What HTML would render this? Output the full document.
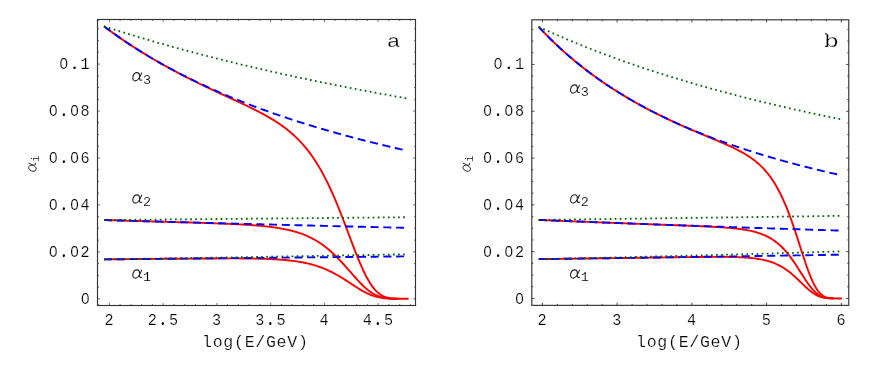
<!DOCTYPE html>
<html><head><meta charset="utf-8"><title>Running couplings</title>
<style>
html,body{margin:0;padding:0;background:#fff;}
body{width:871px;height:373px;overflow:hidden;font-family:"Liberation Mono",monospace;}
svg{display:block;will-change:transform;transform:translateZ(0);}
</style></head><body>
<svg width="871" height="373" viewBox="0 0 871 373">
<rect width="871" height="373" fill="#fff"/>
<g id="panel-a">
<path d="M104.03,26.32 L105.29,27.28 L106.56,28.22 L107.83,29.17 L109.1,30.1 L110.37,31.03 L111.64,31.95 L112.91,32.87 L114.18,33.78 L115.45,34.68 L116.71,35.58 L117.98,36.47 L119.25,37.36 L120.52,38.24 L121.79,39.11 L123.06,39.98 L124.33,40.84 L125.6,41.7 L126.87,42.55 L128.14,43.39 L129.4,44.23 L130.67,45.07 L131.94,45.9 L133.21,46.72 L134.48,47.54 L135.75,48.35 L137.02,49.16 L138.29,49.96 L139.56,50.76 L140.82,51.55 L142.09,52.34 L143.36,53.13 L144.63,53.9 L145.9,54.68 L147.17,55.45 L148.44,56.21 L149.71,56.97 L150.98,57.72 L152.25,58.47 L153.51,59.22 L154.78,59.96 L156.05,60.7 L157.32,61.43 L158.59,62.16 L159.86,62.88 L161.13,63.6 L162.4,64.32 L163.67,65.03 L164.93,65.74 L166.2,66.44 L167.47,67.14 L168.74,67.84 L170.01,68.53 L171.28,69.22 L172.55,69.9 L173.82,70.58 L175.09,71.26 L176.36,71.93 L177.62,72.6 L178.89,73.27 L180.16,73.93 L181.43,74.59 L182.7,75.25 L183.97,75.9 L185.24,76.55 L186.51,77.19 L187.78,77.84 L189.04,78.48 L190.31,79.12 L191.58,79.75 L192.85,80.38 L194.12,81.01 L195.39,81.64 L196.66,82.26 L197.93,82.88 L199.2,83.5 L200.47,84.11 L201.73,84.73 L203,85.34 L204.27,85.95 L205.54,86.55 L206.81,87.16 L208.08,87.76 L209.35,88.36 L210.62,88.96 L211.89,89.56 L213.15,90.15 L214.42,90.74 L215.69,91.34 L216.96,91.93 L218.23,92.52 L219.5,93.11 L220.77,93.7 L222.04,94.28 L223.31,94.87 L224.58,95.46 L225.84,96.04 L227.11,96.63 L228.38,97.21 L229.65,97.8 L230.92,98.38 L232.19,98.97 L233.46,99.56 L234.73,100.14 L236,100.73 L237.26,101.32 L238.53,101.91 L239.8,102.51 L241.07,103.1 L242.34,103.7 L243.61,104.3 L244.88,104.9 L246.15,105.51 L247.42,106.11 L248.69,106.73 L249.95,107.34 L251.22,107.96 L252.49,108.59 L253.76,109.22 L255.03,109.86 L256.3,110.5 L257.57,111.15 L258.84,111.8 L260.11,112.47 L261.37,113.14 L262.64,113.82 L263.91,114.51 L265.18,115.2 L266.45,115.91 L267.72,116.63 L268.99,117.36 L270.26,118.1 L271.53,118.86 L272.8,119.63 L274.06,120.41 L275.33,121.21 L276.6,122.03 L277.87,122.86 L279.14,123.71 L280.41,124.58 L281.68,125.47 L282.95,126.38 L284.22,127.31 L285.48,128.27 L286.75,129.25 L288.02,130.25 L289.29,131.29 L290.56,132.35 L291.83,133.44 L293.1,134.56 L294.37,135.72 L295.64,136.9 L296.91,138.13 L298.17,139.39 L299.44,140.69 L300.71,142.03 L301.98,143.41 L303.25,144.84 L304.52,146.31 L305.79,147.83 L307.06,149.4 L308.33,151.01 L309.59,152.68 L310.86,154.41 L312.13,156.19 L313.4,158.02 L314.67,159.92 L315.94,161.88 L317.21,163.89 L318.48,165.98 L319.75,168.12 L321.02,170.34 L322.28,172.62 L323.55,174.96 L324.82,177.38 L326.09,179.86 L327.36,182.42 L328.63,185.04 L329.9,187.73 L331.17,190.49 L332.44,193.31 L333.7,196.2 L334.97,199.15 L336.24,202.17 L337.51,205.24 L338.78,208.36 L340.05,211.54 L341.32,214.76 L342.59,218.03 L343.86,221.32 L345.13,224.65 L346.39,228 L347.66,231.37 L348.93,234.74 L350.2,238.11 L351.47,241.47 L352.74,244.81 L354.01,248.11 L355.28,251.38 L356.55,254.6 L357.81,257.75 L359.08,260.83 L360.35,263.83 L361.62,266.74 L362.89,269.54 L364.16,272.24 L365.43,274.81 L366.7,277.25 L367.97,279.56 L369.24,281.72 L370.5,283.74 L371.77,285.62 L373.04,287.34 L374.31,288.92 L375.58,290.35 L376.85,291.63 L378.12,292.77 L379.39,293.78 L380.66,294.67 L381.92,295.43 L383.19,296.08 L384.46,296.64 L385.73,297.1 L387,297.48 L388.27,297.79 L389.54,298.04 L390.81,298.23 L392.08,298.39 L393.35,298.5 L394.61,298.59 L395.88,298.66 L397.15,298.7 L398.42,298.74 L399.69,298.76 L400.96,298.77 L402.23,298.78 L403.5,298.79 L404.77,298.79 L406.03,298.8 L407.3,298.8 L408.57,298.8" fill="none" stroke="#ff0000" stroke-width="1.9" stroke-linejoin="round"/>
<path d="M104.03,220.06 L105.29,220.1 L106.56,220.13 L107.83,220.17 L109.1,220.21 L110.37,220.24 L111.64,220.28 L112.91,220.31 L114.18,220.35 L115.45,220.39 L116.71,220.42 L117.98,220.46 L119.25,220.49 L120.52,220.53 L121.79,220.57 L123.06,220.6 L124.33,220.64 L125.6,220.67 L126.87,220.71 L128.14,220.75 L129.4,220.78 L130.67,220.82 L131.94,220.85 L133.21,220.89 L134.48,220.92 L135.75,220.96 L137.02,221 L138.29,221.03 L139.56,221.07 L140.82,221.1 L142.09,221.14 L143.36,221.18 L144.63,221.21 L145.9,221.25 L147.17,221.28 L148.44,221.32 L149.71,221.35 L150.98,221.39 L152.25,221.43 L153.51,221.46 L154.78,221.5 L156.05,221.53 L157.32,221.57 L158.59,221.6 L159.86,221.64 L161.13,221.68 L162.4,221.71 L163.67,221.75 L164.93,221.78 L166.2,221.82 L167.47,221.86 L168.74,221.89 L170.01,221.93 L171.28,221.97 L172.55,222 L173.82,222.04 L175.09,222.08 L176.36,222.11 L177.62,222.15 L178.89,222.19 L180.16,222.22 L181.43,222.26 L182.7,222.3 L183.97,222.33 L185.24,222.37 L186.51,222.41 L187.78,222.45 L189.04,222.49 L190.31,222.52 L191.58,222.56 L192.85,222.6 L194.12,222.64 L195.39,222.68 L196.66,222.72 L197.93,222.76 L199.2,222.8 L200.47,222.84 L201.73,222.88 L203,222.92 L204.27,222.96 L205.54,223 L206.81,223.04 L208.08,223.09 L209.35,223.13 L210.62,223.17 L211.89,223.22 L213.15,223.26 L214.42,223.31 L215.69,223.35 L216.96,223.4 L218.23,223.45 L219.5,223.49 L220.77,223.54 L222.04,223.59 L223.31,223.64 L224.58,223.69 L225.84,223.74 L227.11,223.8 L228.38,223.85 L229.65,223.91 L230.92,223.96 L232.19,224.02 L233.46,224.08 L234.73,224.14 L236,224.2 L237.26,224.27 L238.53,224.33 L239.8,224.4 L241.07,224.47 L242.34,224.54 L243.61,224.61 L244.88,224.68 L246.15,224.76 L247.42,224.84 L248.69,224.92 L249.95,225.01 L251.22,225.09 L252.49,225.18 L253.76,225.28 L255.03,225.37 L256.3,225.47 L257.57,225.58 L258.84,225.69 L260.11,225.8 L261.37,225.91 L262.64,226.03 L263.91,226.16 L265.18,226.29 L266.45,226.43 L267.72,226.57 L268.99,226.71 L270.26,226.87 L271.53,227.03 L272.8,227.19 L274.06,227.37 L275.33,227.55 L276.6,227.73 L277.87,227.93 L279.14,228.14 L280.41,228.35 L281.68,228.58 L282.95,228.81 L284.22,229.06 L285.48,229.31 L286.75,229.58 L288.02,229.86 L289.29,230.15 L290.56,230.46 L291.83,230.78 L293.1,231.11 L294.37,231.46 L295.64,231.83 L296.91,232.21 L298.17,232.61 L299.44,233.03 L300.71,233.47 L301.98,233.92 L303.25,234.4 L304.52,234.9 L305.79,235.42 L307.06,235.96 L308.33,236.53 L309.59,237.12 L310.86,237.74 L312.13,238.38 L313.4,239.05 L314.67,239.75 L315.94,240.48 L317.21,241.24 L318.48,242.02 L319.75,242.84 L321.02,243.69 L322.28,244.57 L323.55,245.49 L324.82,246.44 L326.09,247.42 L327.36,248.43 L328.63,249.48 L329.9,250.56 L331.17,251.68 L332.44,252.83 L333.7,254.01 L334.97,255.22 L336.24,256.47 L337.51,257.74 L338.78,259.05 L340.05,260.38 L341.32,261.74 L342.59,263.11 L343.86,264.51 L345.13,265.93 L346.39,267.36 L347.66,268.81 L348.93,270.26 L350.2,271.71 L351.47,273.17 L352.74,274.62 L354.01,276.07 L355.28,277.5 L356.55,278.91 L357.81,280.3 L359.08,281.66 L360.35,282.99 L361.62,284.28 L362.89,285.53 L364.16,286.73 L365.43,287.88 L366.7,288.97 L367.97,290.01 L369.24,290.99 L370.5,291.9 L371.77,292.75 L373.04,293.53 L374.31,294.25 L375.58,294.9 L376.85,295.49 L378.12,296.01 L379.39,296.48 L380.66,296.88 L381.92,297.23 L383.19,297.54 L384.46,297.79 L385.73,298 L387,298.18 L388.27,298.33 L389.54,298.44 L390.81,298.53 L392.08,298.61 L393.35,298.66 L394.61,298.7 L395.88,298.73 L397.15,298.75" fill="none" stroke="#ff0000" stroke-width="1.9" stroke-linejoin="round"/>
<path d="M104.03,259.37 L105.29,259.36 L106.56,259.35 L107.83,259.34 L109.1,259.32 L110.37,259.31 L111.64,259.3 L112.91,259.29 L114.18,259.28 L115.45,259.27 L116.71,259.25 L117.98,259.24 L119.25,259.23 L120.52,259.22 L121.79,259.21 L123.06,259.2 L124.33,259.18 L125.6,259.17 L126.87,259.16 L128.14,259.15 L129.4,259.14 L130.67,259.13 L131.94,259.11 L133.21,259.1 L134.48,259.09 L135.75,259.08 L137.02,259.07 L138.29,259.06 L139.56,259.04 L140.82,259.03 L142.09,259.02 L143.36,259.01 L144.63,259 L145.9,258.99 L147.17,258.97 L148.44,258.96 L149.71,258.95 L150.98,258.94 L152.25,258.93 L153.51,258.92 L154.78,258.9 L156.05,258.89 L157.32,258.88 L158.59,258.87 L159.86,258.86 L161.13,258.85 L162.4,258.84 L163.67,258.82 L164.93,258.81 L166.2,258.8 L167.47,258.79 L168.74,258.78 L170.01,258.77 L171.28,258.76 L172.55,258.75 L173.82,258.73 L175.09,258.72 L176.36,258.71 L177.62,258.7 L178.89,258.69 L180.16,258.68 L181.43,258.67 L182.7,258.66 L183.97,258.65 L185.24,258.64 L186.51,258.63 L187.78,258.62 L189.04,258.61 L190.31,258.6 L191.58,258.59 L192.85,258.58 L194.12,258.57 L195.39,258.56 L196.66,258.55 L197.93,258.54 L199.2,258.53 L200.47,258.52 L201.73,258.51 L203,258.5 L204.27,258.5 L205.54,258.49 L206.81,258.48 L208.08,258.47 L209.35,258.47 L210.62,258.46 L211.89,258.45 L213.15,258.45 L214.42,258.44 L215.69,258.43 L216.96,258.43 L218.23,258.42 L219.5,258.42 L220.77,258.41 L222.04,258.41 L223.31,258.41 L224.58,258.4 L225.84,258.4 L227.11,258.4 L228.38,258.4 L229.65,258.4 L230.92,258.4 L232.19,258.4 L233.46,258.4 L234.73,258.4 L236,258.41 L237.26,258.41 L238.53,258.42 L239.8,258.42 L241.07,258.43 L242.34,258.44 L243.61,258.45 L244.88,258.46 L246.15,258.47 L247.42,258.48 L248.69,258.5 L249.95,258.51 L251.22,258.53 L252.49,258.55 L253.76,258.57 L255.03,258.6 L256.3,258.62 L257.57,258.65 L258.84,258.68 L260.11,258.71 L261.37,258.74 L262.64,258.78 L263.91,258.82 L265.18,258.86 L266.45,258.91 L267.72,258.95 L268.99,259 L270.26,259.06 L271.53,259.12 L272.8,259.18 L274.06,259.25 L275.33,259.32 L276.6,259.39 L277.87,259.47 L279.14,259.56 L280.41,259.65 L281.68,259.74 L282.95,259.85 L284.22,259.95 L285.48,260.07 L286.75,260.19 L288.02,260.32 L289.29,260.45 L290.56,260.59 L291.83,260.74 L293.1,260.9 L294.37,261.07 L295.64,261.25 L296.91,261.43 L298.17,261.63 L299.44,261.84 L300.71,262.06 L301.98,262.29 L303.25,262.53 L304.52,262.78 L305.79,263.05 L307.06,263.33 L308.33,263.62 L309.59,263.93 L310.86,264.25 L312.13,264.59 L313.4,264.95 L314.67,265.32 L315.94,265.71 L317.21,266.11 L318.48,266.54 L319.75,266.98 L321.02,267.44 L322.28,267.92 L323.55,268.42 L324.82,268.93 L326.09,269.47 L327.36,270.03 L328.63,270.61 L329.9,271.21 L331.17,271.82 L332.44,272.46 L333.7,273.12 L334.97,273.8 L336.24,274.5 L337.51,275.21 L338.78,275.94 L340.05,276.69 L341.32,277.46 L342.59,278.23 L343.86,279.03 L345.13,279.83 L346.39,280.64 L347.66,281.46 L348.93,282.29 L350.2,283.12 L351.47,283.95 L352.74,284.78 L354.01,285.61 L355.28,286.43 L356.55,287.24 L357.81,288.04 L359.08,288.83 L360.35,289.59 L361.62,290.34 L362.89,291.06 L364.16,291.76 L365.43,292.42 L366.7,293.06 L367.97,293.66 L369.24,294.23 L370.5,294.76 L371.77,295.25 L373.04,295.71 L374.31,296.13 L375.58,296.51 L376.85,296.85 L378.12,297.16 L379.39,297.43 L380.66,297.67 L381.92,297.88 L383.19,298.05 L384.46,298.2 L385.73,298.33 L387,298.43 L388.27,298.52 L389.54,298.59 L390.81,298.64 L392.08,298.68 L393.35,298.72 L394.61,298.74 L395.88,298.76 L397.15,298.77 L398.42,298.78" fill="none" stroke="#ff0000" stroke-width="1.9" stroke-linejoin="round"/>
<path d="M104.03,26.31 L105.28,27.26 L106.54,28.2 L107.8,29.14 L109.06,30.07 L110.32,30.99 L111.58,31.9 L112.84,32.81 L114.1,33.72 L115.36,34.61 L116.62,35.5 L117.88,36.39 L119.14,37.27 L120.4,38.14 L121.66,39.01 L122.92,39.87 L124.18,40.73 L125.44,41.58 L126.7,42.42 L127.96,43.26 L129.22,44.1 L130.48,44.92 L131.74,45.75 L133,46.56 L134.26,47.38 L135.52,48.18 L136.78,48.99 L138.04,49.78 L139.3,50.58 L140.56,51.36 L141.82,52.14 L143.08,52.92 L144.34,53.69 L145.6,54.46 L146.86,55.22 L148.12,55.98 L149.38,56.73 L150.64,57.48 L151.9,58.23 L153.16,58.96 L154.42,59.7 L155.68,60.43 L156.94,61.16 L158.2,61.88 L159.46,62.59 L160.72,63.31 L161.98,64.01 L163.24,64.72 L164.5,65.42 L165.76,66.11 L167.02,66.81 L168.28,67.49 L169.54,68.18 L170.8,68.86 L172.06,69.53 L173.32,70.2 L174.58,70.87 L175.84,71.53 L177.1,72.19 L178.36,72.85 L179.62,73.5 L180.88,74.15 L182.14,74.79 L183.4,75.44 L184.66,76.07 L185.92,76.71 L187.18,77.34 L188.44,77.96 L189.7,78.59 L190.96,79.21 L192.22,79.82 L193.48,80.43 L194.74,81.04 L196,81.65 L197.26,82.25 L198.52,82.85 L199.78,83.45 L201.04,84.04 L202.3,84.63 L203.56,85.21 L204.82,85.8 L206.08,86.38 L207.34,86.95 L208.6,87.53 L209.86,88.1 L211.12,88.66 L212.38,89.23 L213.64,89.79 L214.9,90.35 L216.16,90.9 L217.42,91.46 L218.68,92 L219.94,92.55 L221.2,93.09 L222.46,93.64 L223.72,94.17 L224.98,94.71 L226.24,95.24 L227.5,95.77 L228.76,96.3 L230.02,96.82 L231.28,97.34 L232.54,97.86 L233.8,98.38 L235.06,98.89 L236.32,99.4 L237.58,99.91 L238.84,100.41 L240.1,100.92 L241.36,101.42 L242.62,101.91 L243.88,102.41 L245.14,102.9 L246.4,103.39 L247.66,103.88 L248.92,104.37 L250.18,104.85 L251.44,105.33 L252.7,105.81 L253.96,106.28 L255.22,106.76 L256.48,107.23 L257.74,107.7 L259,108.17 L260.26,108.63 L261.52,109.09 L262.78,109.55 L264.04,110.01 L265.3,110.47 L266.56,110.92 L267.82,111.37 L269.08,111.82 L270.34,112.27 L271.6,112.71 L272.86,113.15 L274.12,113.59 L275.38,114.03 L276.64,114.47 L277.9,114.9 L279.16,115.33 L280.42,115.76 L281.68,116.19 L282.94,116.62 L284.2,117.04 L285.46,117.47 L286.72,117.89 L287.98,118.3 L289.24,118.72 L290.5,119.14 L291.76,119.55 L293.02,119.96 L294.28,120.37 L295.54,120.77 L296.8,121.18 L298.06,121.58 L299.32,121.98 L300.58,122.38 L301.84,122.78 L303.1,123.18 L304.36,123.57 L305.62,123.96 L306.88,124.35 L308.14,124.74 L309.4,125.13 L310.66,125.52 L311.92,125.9 L313.18,126.28 L314.44,126.66 L315.7,127.04 L316.96,127.42 L318.22,127.79 L319.48,128.17 L320.74,128.54 L322,128.91 L323.26,129.28 L324.52,129.65 L325.78,130.01 L327.04,130.38 L328.3,130.74 L329.56,131.1 L330.82,131.46 L332.08,131.82 L333.34,132.17 L334.6,132.53 L335.86,132.88 L337.12,133.23 L338.38,133.59 L339.64,133.93 L340.9,134.28 L342.16,134.63 L343.42,134.97 L344.68,135.32 L345.94,135.66 L347.2,136 L348.46,136.34 L349.72,136.67 L350.98,137.01 L352.24,137.34 L353.5,137.68 L354.76,138.01 L356.02,138.34 L357.28,138.67 L358.54,139 L359.8,139.32 L361.06,139.65 L362.32,139.97 L363.58,140.29 L364.84,140.62 L366.1,140.94 L367.36,141.25 L368.62,141.57 L369.88,141.89 L371.14,142.2 L372.4,142.52 L373.66,142.83 L374.92,143.14 L376.18,143.45 L377.44,143.76 L378.7,144.07 L379.96,144.37 L381.22,144.68 L382.48,144.98 L383.74,145.28 L385,145.58 L386.26,145.88 L387.52,146.18 L388.78,146.48 L390.04,146.78 L391.3,147.07 L392.56,147.37 L393.82,147.66 L395.08,147.95 L396.34,148.24 L397.6,148.53 L398.86,148.82 L400.12,149.11 L401.38,149.4 L402.64,149.68 L403.9,149.97 L405.16,150.25 L406.42,150.53" fill="none" stroke="#0000ff" stroke-width="1.9" stroke-dasharray="8 4.7"/>
<path d="M104.03,220.06 L105.28,220.09 L106.54,220.13 L107.8,220.17 L109.06,220.2 L110.32,220.24 L111.58,220.27 L112.84,220.31 L114.1,220.34 L115.36,220.38 L116.62,220.42 L117.88,220.45 L119.14,220.49 L120.4,220.52 L121.66,220.56 L122.92,220.59 L124.18,220.63 L125.44,220.66 L126.7,220.7 L127.96,220.74 L129.22,220.77 L130.48,220.81 L131.74,220.84 L133,220.88 L134.26,220.91 L135.52,220.95 L136.78,220.98 L138.04,221.02 L139.3,221.05 L140.56,221.09 L141.82,221.12 L143.08,221.16 L144.34,221.19 L145.6,221.23 L146.86,221.26 L148.12,221.3 L149.38,221.33 L150.64,221.37 L151.9,221.4 L153.16,221.44 L154.42,221.47 L155.68,221.5 L156.94,221.54 L158.2,221.57 L159.46,221.61 L160.72,221.64 L161.98,221.68 L163.24,221.71 L164.5,221.75 L165.76,221.78 L167.02,221.81 L168.28,221.85 L169.54,221.88 L170.8,221.92 L172.06,221.95 L173.32,221.99 L174.58,222.02 L175.84,222.05 L177.1,222.09 L178.36,222.12 L179.62,222.16 L180.88,222.19 L182.14,222.22 L183.4,222.26 L184.66,222.29 L185.92,222.33 L187.18,222.36 L188.44,222.39 L189.7,222.43 L190.96,222.46 L192.22,222.5 L193.48,222.53 L194.74,222.56 L196,222.6 L197.26,222.63 L198.52,222.66 L199.78,222.7 L201.04,222.73 L202.3,222.76 L203.56,222.8 L204.82,222.83 L206.08,222.86 L207.34,222.9 L208.6,222.93 L209.86,222.97 L211.12,223 L212.38,223.03 L213.64,223.06 L214.9,223.1 L216.16,223.13 L217.42,223.16 L218.68,223.2 L219.94,223.23 L221.2,223.26 L222.46,223.3 L223.72,223.33 L224.98,223.36 L226.24,223.4 L227.5,223.43 L228.76,223.46 L230.02,223.49 L231.28,223.53 L232.54,223.56 L233.8,223.59 L235.06,223.63 L236.32,223.66 L237.58,223.69 L238.84,223.72 L240.1,223.76 L241.36,223.79 L242.62,223.82 L243.88,223.85 L245.14,223.89 L246.4,223.92 L247.66,223.95 L248.92,223.98 L250.18,224.02 L251.44,224.05 L252.7,224.08 L253.96,224.11 L255.22,224.15 L256.48,224.18 L257.74,224.21 L259,224.24 L260.26,224.28 L261.52,224.31 L262.78,224.34 L264.04,224.37 L265.3,224.4 L266.56,224.44 L267.82,224.47 L269.08,224.5 L270.34,224.53 L271.6,224.56 L272.86,224.6 L274.12,224.63 L275.38,224.66 L276.64,224.69 L277.9,224.72 L279.16,224.75 L280.42,224.79 L281.68,224.82 L282.94,224.85 L284.2,224.88 L285.46,224.91 L286.72,224.95 L287.98,224.98 L289.24,225.01 L290.5,225.04 L291.76,225.07 L293.02,225.1 L294.28,225.13 L295.54,225.17 L296.8,225.2 L298.06,225.23 L299.32,225.26 L300.58,225.29 L301.84,225.32 L303.1,225.35 L304.36,225.39 L305.62,225.42 L306.88,225.45 L308.14,225.48 L309.4,225.51 L310.66,225.54 L311.92,225.57 L313.18,225.6 L314.44,225.63 L315.7,225.67 L316.96,225.7 L318.22,225.73 L319.48,225.76 L320.74,225.79 L322,225.82 L323.26,225.85 L324.52,225.88 L325.78,225.91 L327.04,225.94 L328.3,225.97 L329.56,226 L330.82,226.04 L332.08,226.07 L333.34,226.1 L334.6,226.13 L335.86,226.16 L337.12,226.19 L338.38,226.22 L339.64,226.25 L340.9,226.28 L342.16,226.31 L343.42,226.34 L344.68,226.37 L345.94,226.4 L347.2,226.43 L348.46,226.46 L349.72,226.49 L350.98,226.52 L352.24,226.55 L353.5,226.58 L354.76,226.61 L356.02,226.64 L357.28,226.67 L358.54,226.7 L359.8,226.73 L361.06,226.76 L362.32,226.79 L363.58,226.82 L364.84,226.85 L366.1,226.88 L367.36,226.91 L368.62,226.94 L369.88,226.97 L371.14,227 L372.4,227.03 L373.66,227.06 L374.92,227.09 L376.18,227.12 L377.44,227.15 L378.7,227.18 L379.96,227.21 L381.22,227.24 L382.48,227.27 L383.74,227.3 L385,227.33 L386.26,227.36 L387.52,227.39 L388.78,227.42 L390.04,227.45 L391.3,227.48 L392.56,227.51 L393.82,227.54 L395.08,227.57 L396.34,227.6 L397.6,227.63 L398.86,227.66 L400.12,227.68 L401.38,227.71 L402.64,227.74 L403.9,227.77 L405.16,227.8 L406.42,227.83" fill="none" stroke="#0000ff" stroke-width="1.9" stroke-dasharray="8 4.7"/>
<path d="M104.03,259.37 L105.28,259.36 L106.54,259.35 L107.8,259.34 L109.06,259.32 L110.32,259.31 L111.58,259.3 L112.84,259.29 L114.1,259.28 L115.36,259.27 L116.62,259.25 L117.88,259.24 L119.14,259.23 L120.4,259.22 L121.66,259.21 L122.92,259.19 L124.18,259.18 L125.44,259.17 L126.7,259.16 L127.96,259.15 L129.22,259.14 L130.48,259.12 L131.74,259.11 L133,259.1 L134.26,259.09 L135.52,259.08 L136.78,259.06 L138.04,259.05 L139.3,259.04 L140.56,259.03 L141.82,259.02 L143.08,259.01 L144.34,258.99 L145.6,258.98 L146.86,258.97 L148.12,258.96 L149.38,258.95 L150.64,258.93 L151.9,258.92 L153.16,258.91 L154.42,258.9 L155.68,258.89 L156.94,258.87 L158.2,258.86 L159.46,258.85 L160.72,258.84 L161.98,258.83 L163.24,258.81 L164.5,258.8 L165.76,258.79 L167.02,258.78 L168.28,258.77 L169.54,258.75 L170.8,258.74 L172.06,258.73 L173.32,258.72 L174.58,258.71 L175.84,258.69 L177.1,258.68 L178.36,258.67 L179.62,258.66 L180.88,258.65 L182.14,258.63 L183.4,258.62 L184.66,258.61 L185.92,258.6 L187.18,258.59 L188.44,258.57 L189.7,258.56 L190.96,258.55 L192.22,258.54 L193.48,258.52 L194.74,258.51 L196,258.5 L197.26,258.49 L198.52,258.48 L199.78,258.46 L201.04,258.45 L202.3,258.44 L203.56,258.43 L204.82,258.41 L206.08,258.4 L207.34,258.39 L208.6,258.38 L209.86,258.37 L211.12,258.35 L212.38,258.34 L213.64,258.33 L214.9,258.32 L216.16,258.3 L217.42,258.29 L218.68,258.28 L219.94,258.27 L221.2,258.25 L222.46,258.24 L223.72,258.23 L224.98,258.22 L226.24,258.21 L227.5,258.19 L228.76,258.18 L230.02,258.17 L231.28,258.16 L232.54,258.14 L233.8,258.13 L235.06,258.12 L236.32,258.11 L237.58,258.09 L238.84,258.08 L240.1,258.07 L241.36,258.06 L242.62,258.04 L243.88,258.03 L245.14,258.02 L246.4,258.01 L247.66,257.99 L248.92,257.98 L250.18,257.97 L251.44,257.96 L252.7,257.94 L253.96,257.93 L255.22,257.92 L256.48,257.91 L257.74,257.89 L259,257.88 L260.26,257.87 L261.52,257.86 L262.78,257.84 L264.04,257.83 L265.3,257.82 L266.56,257.81 L267.82,257.79 L269.08,257.78 L270.34,257.77 L271.6,257.76 L272.86,257.74 L274.12,257.73 L275.38,257.72 L276.64,257.7 L277.9,257.69 L279.16,257.68 L280.42,257.67 L281.68,257.65 L282.94,257.64 L284.2,257.63 L285.46,257.62 L286.72,257.6 L287.98,257.59 L289.24,257.58 L290.5,257.56 L291.76,257.55 L293.02,257.54 L294.28,257.53 L295.54,257.51 L296.8,257.5 L298.06,257.49 L299.32,257.48 L300.58,257.46 L301.84,257.45 L303.1,257.44 L304.36,257.42 L305.62,257.41 L306.88,257.4 L308.14,257.39 L309.4,257.37 L310.66,257.36 L311.92,257.35 L313.18,257.33 L314.44,257.32 L315.7,257.31 L316.96,257.3 L318.22,257.28 L319.48,257.27 L320.74,257.26 L322,257.24 L323.26,257.23 L324.52,257.22 L325.78,257.2 L327.04,257.19 L328.3,257.18 L329.56,257.17 L330.82,257.15 L332.08,257.14 L333.34,257.13 L334.6,257.11 L335.86,257.1 L337.12,257.09 L338.38,257.07 L339.64,257.06 L340.9,257.05 L342.16,257.03 L343.42,257.02 L344.68,257.01 L345.94,257 L347.2,256.98 L348.46,256.97 L349.72,256.96 L350.98,256.94 L352.24,256.93 L353.5,256.92 L354.76,256.9 L356.02,256.89 L357.28,256.88 L358.54,256.86 L359.8,256.85 L361.06,256.84 L362.32,256.82 L363.58,256.81 L364.84,256.8 L366.1,256.78 L367.36,256.77 L368.62,256.76 L369.88,256.75 L371.14,256.73 L372.4,256.72 L373.66,256.71 L374.92,256.69 L376.18,256.68 L377.44,256.67 L378.7,256.65 L379.96,256.64 L381.22,256.63 L382.48,256.61 L383.74,256.6 L385,256.59 L386.26,256.57 L387.52,256.56 L388.78,256.55 L390.04,256.53 L391.3,256.52 L392.56,256.5 L393.82,256.49 L395.08,256.48 L396.34,256.46 L397.6,256.45 L398.86,256.44 L400.12,256.42 L401.38,256.41 L402.64,256.4 L403.9,256.38 L405.16,256.37 L406.42,256.36" fill="none" stroke="#0000ff" stroke-width="1.9" stroke-dasharray="8 4.7"/>
<path d="M104.03,26.31 L105.28,26.72 L106.54,27.13 L107.8,27.53 L109.06,27.93 L110.32,28.34 L111.58,28.74 L112.84,29.14 L114.1,29.54 L115.36,29.93 L116.62,30.33 L117.88,30.72 L119.14,31.12 L120.4,31.51 L121.66,31.9 L122.92,32.29 L124.18,32.68 L125.44,33.07 L126.7,33.46 L127.96,33.84 L129.22,34.23 L130.48,34.61 L131.74,35 L133,35.38 L134.26,35.76 L135.52,36.14 L136.78,36.52 L138.04,36.89 L139.3,37.27 L140.56,37.64 L141.82,38.02 L143.08,38.39 L144.34,38.76 L145.6,39.13 L146.86,39.5 L148.12,39.87 L149.38,40.24 L150.64,40.61 L151.9,40.97 L153.16,41.34 L154.42,41.7 L155.68,42.06 L156.94,42.42 L158.2,42.78 L159.46,43.14 L160.72,43.5 L161.98,43.86 L163.24,44.21 L164.5,44.57 L165.76,44.92 L167.02,45.28 L168.28,45.63 L169.54,45.98 L170.8,46.33 L172.06,46.68 L173.32,47.03 L174.58,47.38 L175.84,47.72 L177.1,48.07 L178.36,48.41 L179.62,48.76 L180.88,49.1 L182.14,49.44 L183.4,49.78 L184.66,50.12 L185.92,50.46 L187.18,50.8 L188.44,51.14 L189.7,51.47 L190.96,51.81 L192.22,52.14 L193.48,52.48 L194.74,52.81 L196,53.14 L197.26,53.47 L198.52,53.8 L199.78,54.13 L201.04,54.46 L202.3,54.79 L203.56,55.11 L204.82,55.44 L206.08,55.76 L207.34,56.09 L208.6,56.41 L209.86,56.73 L211.12,57.05 L212.38,57.38 L213.64,57.69 L214.9,58.01 L216.16,58.33 L217.42,58.65 L218.68,58.96 L219.94,59.28 L221.2,59.59 L222.46,59.91 L223.72,60.22 L224.98,60.53 L226.24,60.84 L227.5,61.16 L228.76,61.46 L230.02,61.77 L231.28,62.08 L232.54,62.39 L233.8,62.7 L235.06,63 L236.32,63.31 L237.58,63.61 L238.84,63.91 L240.1,64.22 L241.36,64.52 L242.62,64.82 L243.88,65.12 L245.14,65.42 L246.4,65.72 L247.66,66.01 L248.92,66.31 L250.18,66.61 L251.44,66.9 L252.7,67.2 L253.96,67.49 L255.22,67.79 L256.48,68.08 L257.74,68.37 L259,68.66 L260.26,68.95 L261.52,69.24 L262.78,69.53 L264.04,69.82 L265.3,70.11 L266.56,70.39 L267.82,70.68 L269.08,70.97 L270.34,71.25 L271.6,71.53 L272.86,71.82 L274.12,72.1 L275.38,72.38 L276.64,72.66 L277.9,72.94 L279.16,73.22 L280.42,73.5 L281.68,73.78 L282.94,74.06 L284.2,74.33 L285.46,74.61 L286.72,74.89 L287.98,75.16 L289.24,75.44 L290.5,75.71 L291.76,75.98 L293.02,76.25 L294.28,76.53 L295.54,76.8 L296.8,77.07 L298.06,77.34 L299.32,77.61 L300.58,77.87 L301.84,78.14 L303.1,78.41 L304.36,78.68 L305.62,78.94 L306.88,79.21 L308.14,79.47 L309.4,79.73 L310.66,80 L311.92,80.26 L313.18,80.52 L314.44,80.78 L315.7,81.04 L316.96,81.3 L318.22,81.56 L319.48,81.82 L320.74,82.08 L322,82.34 L323.26,82.59 L324.52,82.85 L325.78,83.11 L327.04,83.36 L328.3,83.62 L329.56,83.87 L330.82,84.12 L332.08,84.38 L333.34,84.63 L334.6,84.88 L335.86,85.13 L337.12,85.38 L338.38,85.63 L339.64,85.88 L340.9,86.13 L342.16,86.38 L343.42,86.62 L344.68,86.87 L345.94,87.12 L347.2,87.36 L348.46,87.61 L349.72,87.85 L350.98,88.1 L352.24,88.34 L353.5,88.58 L354.76,88.83 L356.02,89.07 L357.28,89.31 L358.54,89.55 L359.8,89.79 L361.06,90.03 L362.32,90.27 L363.58,90.51 L364.84,90.74 L366.1,90.98 L367.36,91.22 L368.62,91.46 L369.88,91.69 L371.14,91.93 L372.4,92.16 L373.66,92.4 L374.92,92.63 L376.18,92.86 L377.44,93.09 L378.7,93.33 L379.96,93.56 L381.22,93.79 L382.48,94.02 L383.74,94.25 L385,94.48 L386.26,94.71 L387.52,94.94 L388.78,95.16 L390.04,95.39 L391.3,95.62 L392.56,95.85 L393.82,96.07 L395.08,96.3 L396.34,96.52 L397.6,96.75 L398.86,96.97 L400.12,97.19 L401.38,97.42 L402.64,97.64 L403.9,97.86 L405.16,98.08 L406.42,98.3" fill="none" stroke="#006400" stroke-width="1.8" stroke-dasharray="1.7 3.37"/>
<path d="M104.03,220.06 L105.28,220.05 L106.54,220.04 L107.8,220.02 L109.06,220.01 L110.32,220 L111.58,219.99 L112.84,219.98 L114.1,219.97 L115.36,219.96 L116.62,219.94 L117.88,219.93 L119.14,219.92 L120.4,219.91 L121.66,219.9 L122.92,219.89 L124.18,219.88 L125.44,219.86 L126.7,219.85 L127.96,219.84 L129.22,219.83 L130.48,219.82 L131.74,219.81 L133,219.8 L134.26,219.78 L135.52,219.77 L136.78,219.76 L138.04,219.75 L139.3,219.74 L140.56,219.73 L141.82,219.72 L143.08,219.7 L144.34,219.69 L145.6,219.68 L146.86,219.67 L148.12,219.66 L149.38,219.65 L150.64,219.64 L151.9,219.62 L153.16,219.61 L154.42,219.6 L155.68,219.59 L156.94,219.58 L158.2,219.57 L159.46,219.56 L160.72,219.54 L161.98,219.53 L163.24,219.52 L164.5,219.51 L165.76,219.5 L167.02,219.49 L168.28,219.48 L169.54,219.46 L170.8,219.45 L172.06,219.44 L173.32,219.43 L174.58,219.42 L175.84,219.41 L177.1,219.39 L178.36,219.38 L179.62,219.37 L180.88,219.36 L182.14,219.35 L183.4,219.34 L184.66,219.33 L185.92,219.31 L187.18,219.3 L188.44,219.29 L189.7,219.28 L190.96,219.27 L192.22,219.26 L193.48,219.24 L194.74,219.23 L196,219.22 L197.26,219.21 L198.52,219.2 L199.78,219.19 L201.04,219.17 L202.3,219.16 L203.56,219.15 L204.82,219.14 L206.08,219.13 L207.34,219.12 L208.6,219.1 L209.86,219.09 L211.12,219.08 L212.38,219.07 L213.64,219.06 L214.9,219.05 L216.16,219.04 L217.42,219.02 L218.68,219.01 L219.94,219 L221.2,218.99 L222.46,218.98 L223.72,218.97 L224.98,218.95 L226.24,218.94 L227.5,218.93 L228.76,218.92 L230.02,218.91 L231.28,218.9 L232.54,218.88 L233.8,218.87 L235.06,218.86 L236.32,218.85 L237.58,218.84 L238.84,218.82 L240.1,218.81 L241.36,218.8 L242.62,218.79 L243.88,218.78 L245.14,218.77 L246.4,218.75 L247.66,218.74 L248.92,218.73 L250.18,218.72 L251.44,218.71 L252.7,218.7 L253.96,218.68 L255.22,218.67 L256.48,218.66 L257.74,218.65 L259,218.64 L260.26,218.63 L261.52,218.61 L262.78,218.6 L264.04,218.59 L265.3,218.58 L266.56,218.57 L267.82,218.55 L269.08,218.54 L270.34,218.53 L271.6,218.52 L272.86,218.51 L274.12,218.5 L275.38,218.48 L276.64,218.47 L277.9,218.46 L279.16,218.45 L280.42,218.44 L281.68,218.42 L282.94,218.41 L284.2,218.4 L285.46,218.39 L286.72,218.38 L287.98,218.37 L289.24,218.35 L290.5,218.34 L291.76,218.33 L293.02,218.32 L294.28,218.31 L295.54,218.29 L296.8,218.28 L298.06,218.27 L299.32,218.26 L300.58,218.25 L301.84,218.24 L303.1,218.22 L304.36,218.21 L305.62,218.2 L306.88,218.19 L308.14,218.18 L309.4,218.16 L310.66,218.15 L311.92,218.14 L313.18,218.13 L314.44,218.12 L315.7,218.1 L316.96,218.09 L318.22,218.08 L319.48,218.07 L320.74,218.06 L322,218.04 L323.26,218.03 L324.52,218.02 L325.78,218.01 L327.04,218 L328.3,217.99 L329.56,217.97 L330.82,217.96 L332.08,217.95 L333.34,217.94 L334.6,217.93 L335.86,217.91 L337.12,217.9 L338.38,217.89 L339.64,217.88 L340.9,217.87 L342.16,217.85 L343.42,217.84 L344.68,217.83 L345.94,217.82 L347.2,217.81 L348.46,217.79 L349.72,217.78 L350.98,217.77 L352.24,217.76 L353.5,217.75 L354.76,217.73 L356.02,217.72 L357.28,217.71 L358.54,217.7 L359.8,217.69 L361.06,217.67 L362.32,217.66 L363.58,217.65 L364.84,217.64 L366.1,217.62 L367.36,217.61 L368.62,217.6 L369.88,217.59 L371.14,217.58 L372.4,217.56 L373.66,217.55 L374.92,217.54 L376.18,217.53 L377.44,217.52 L378.7,217.5 L379.96,217.49 L381.22,217.48 L382.48,217.47 L383.74,217.46 L385,217.44 L386.26,217.43 L387.52,217.42 L388.78,217.41 L390.04,217.4 L391.3,217.38 L392.56,217.37 L393.82,217.36 L395.08,217.35 L396.34,217.33 L397.6,217.32 L398.86,217.31 L400.12,217.3 L401.38,217.29 L402.64,217.27 L403.9,217.26 L405.16,217.25 L406.42,217.24" fill="none" stroke="#006400" stroke-width="1.8" stroke-dasharray="1.7 3.37"/>
<path d="M104.03,259.37 L105.28,259.35 L106.54,259.33 L107.8,259.31 L109.06,259.3 L110.32,259.28 L111.58,259.26 L112.84,259.24 L114.1,259.22 L115.36,259.2 L116.62,259.18 L117.88,259.16 L119.14,259.14 L120.4,259.12 L121.66,259.11 L122.92,259.09 L124.18,259.07 L125.44,259.05 L126.7,259.03 L127.96,259.01 L129.22,258.99 L130.48,258.97 L131.74,258.95 L133,258.93 L134.26,258.91 L135.52,258.9 L136.78,258.88 L138.04,258.86 L139.3,258.84 L140.56,258.82 L141.82,258.8 L143.08,258.78 L144.34,258.76 L145.6,258.74 L146.86,258.72 L148.12,258.7 L149.38,258.68 L150.64,258.66 L151.9,258.64 L153.16,258.62 L154.42,258.6 L155.68,258.59 L156.94,258.57 L158.2,258.55 L159.46,258.53 L160.72,258.51 L161.98,258.49 L163.24,258.47 L164.5,258.45 L165.76,258.43 L167.02,258.41 L168.28,258.39 L169.54,258.37 L170.8,258.35 L172.06,258.33 L173.32,258.31 L174.58,258.29 L175.84,258.27 L177.1,258.25 L178.36,258.23 L179.62,258.21 L180.88,258.19 L182.14,258.17 L183.4,258.15 L184.66,258.13 L185.92,258.11 L187.18,258.09 L188.44,258.07 L189.7,258.05 L190.96,258.03 L192.22,258.01 L193.48,257.99 L194.74,257.97 L196,257.95 L197.26,257.93 L198.52,257.91 L199.78,257.89 L201.04,257.87 L202.3,257.85 L203.56,257.83 L204.82,257.81 L206.08,257.79 L207.34,257.77 L208.6,257.75 L209.86,257.73 L211.12,257.71 L212.38,257.69 L213.64,257.67 L214.9,257.65 L216.16,257.63 L217.42,257.6 L218.68,257.58 L219.94,257.56 L221.2,257.54 L222.46,257.52 L223.72,257.5 L224.98,257.48 L226.24,257.46 L227.5,257.44 L228.76,257.42 L230.02,257.4 L231.28,257.38 L232.54,257.36 L233.8,257.34 L235.06,257.32 L236.32,257.29 L237.58,257.27 L238.84,257.25 L240.1,257.23 L241.36,257.21 L242.62,257.19 L243.88,257.17 L245.14,257.15 L246.4,257.13 L247.66,257.11 L248.92,257.09 L250.18,257.06 L251.44,257.04 L252.7,257.02 L253.96,257 L255.22,256.98 L256.48,256.96 L257.74,256.94 L259,256.92 L260.26,256.9 L261.52,256.87 L262.78,256.85 L264.04,256.83 L265.3,256.81 L266.56,256.79 L267.82,256.77 L269.08,256.75 L270.34,256.73 L271.6,256.7 L272.86,256.68 L274.12,256.66 L275.38,256.64 L276.64,256.62 L277.9,256.6 L279.16,256.58 L280.42,256.55 L281.68,256.53 L282.94,256.51 L284.2,256.49 L285.46,256.47 L286.72,256.45 L287.98,256.42 L289.24,256.4 L290.5,256.38 L291.76,256.36 L293.02,256.34 L294.28,256.32 L295.54,256.29 L296.8,256.27 L298.06,256.25 L299.32,256.23 L300.58,256.21 L301.84,256.18 L303.1,256.16 L304.36,256.14 L305.62,256.12 L306.88,256.1 L308.14,256.07 L309.4,256.05 L310.66,256.03 L311.92,256.01 L313.18,255.99 L314.44,255.96 L315.7,255.94 L316.96,255.92 L318.22,255.9 L319.48,255.87 L320.74,255.85 L322,255.83 L323.26,255.81 L324.52,255.79 L325.78,255.76 L327.04,255.74 L328.3,255.72 L329.56,255.7 L330.82,255.67 L332.08,255.65 L333.34,255.63 L334.6,255.61 L335.86,255.58 L337.12,255.56 L338.38,255.54 L339.64,255.52 L340.9,255.49 L342.16,255.47 L343.42,255.45 L344.68,255.42 L345.94,255.4 L347.2,255.38 L348.46,255.36 L349.72,255.33 L350.98,255.31 L352.24,255.29 L353.5,255.27 L354.76,255.24 L356.02,255.22 L357.28,255.2 L358.54,255.17 L359.8,255.15 L361.06,255.13 L362.32,255.1 L363.58,255.08 L364.84,255.06 L366.1,255.03 L367.36,255.01 L368.62,254.99 L369.88,254.97 L371.14,254.94 L372.4,254.92 L373.66,254.9 L374.92,254.87 L376.18,254.85 L377.44,254.83 L378.7,254.8 L379.96,254.78 L381.22,254.76 L382.48,254.73 L383.74,254.71 L385,254.69 L386.26,254.66 L387.52,254.64 L388.78,254.61 L390.04,254.59 L391.3,254.57 L392.56,254.54 L393.82,254.52 L395.08,254.5 L396.34,254.47 L397.6,254.45 L398.86,254.42 L400.12,254.4 L401.38,254.38 L402.64,254.35 L403.9,254.33 L405.16,254.31 L406.42,254.28" fill="none" stroke="#006400" stroke-width="1.8" stroke-dasharray="1.7 3.37"/>
<path d="M98.65,305.5 v-1.5 M98.65,19.5 v1.5 M109.4,305.5 v-2.6 M109.4,19.5 v2.6 M120.15,305.5 v-1.5 M120.15,19.5 v1.5 M130.9,305.5 v-1.5 M130.9,19.5 v1.5 M141.65,305.5 v-1.5 M141.65,19.5 v1.5 M152.4,305.5 v-1.5 M152.4,19.5 v1.5 M163.15,305.5 v-2.6 M163.15,19.5 v2.6 M173.9,305.5 v-1.5 M173.9,19.5 v1.5 M184.65,305.5 v-1.5 M184.65,19.5 v1.5 M195.4,305.5 v-1.5 M195.4,19.5 v1.5 M206.15,305.5 v-1.5 M206.15,19.5 v1.5 M216.9,305.5 v-2.6 M216.9,19.5 v2.6 M227.65,305.5 v-1.5 M227.65,19.5 v1.5 M238.4,305.5 v-1.5 M238.4,19.5 v1.5 M249.15,305.5 v-1.5 M249.15,19.5 v1.5 M259.9,305.5 v-1.5 M259.9,19.5 v1.5 M270.65,305.5 v-2.6 M270.65,19.5 v2.6 M281.4,305.5 v-1.5 M281.4,19.5 v1.5 M292.15,305.5 v-1.5 M292.15,19.5 v1.5 M302.9,305.5 v-1.5 M302.9,19.5 v1.5 M313.65,305.5 v-1.5 M313.65,19.5 v1.5 M324.4,305.5 v-2.6 M324.4,19.5 v2.6 M335.15,305.5 v-1.5 M335.15,19.5 v1.5 M345.9,305.5 v-1.5 M345.9,19.5 v1.5 M356.65,305.5 v-1.5 M356.65,19.5 v1.5 M367.4,305.5 v-1.5 M367.4,19.5 v1.5 M378.15,305.5 v-2.6 M378.15,19.5 v2.6 M388.9,305.5 v-1.5 M388.9,19.5 v1.5 M399.65,305.5 v-1.5 M399.65,19.5 v1.5 M410.4,305.5 v-1.5 M410.4,19.5 v1.5 M97.5,298.8 h2.6 M415.5,298.8 h-2.6 M97.5,287.06 h1.5 M415.5,287.06 h-1.5 M97.5,275.33 h1.5 M415.5,275.33 h-1.5 M97.5,263.6 h1.5 M415.5,263.6 h-1.5 M97.5,251.86 h2.6 M415.5,251.86 h-2.6 M97.5,240.12 h1.5 M415.5,240.12 h-1.5 M97.5,228.39 h1.5 M415.5,228.39 h-1.5 M97.5,216.66 h1.5 M415.5,216.66 h-1.5 M97.5,204.92 h2.6 M415.5,204.92 h-2.6 M97.5,193.19 h1.5 M415.5,193.19 h-1.5 M97.5,181.45 h1.5 M415.5,181.45 h-1.5 M97.5,169.72 h1.5 M415.5,169.72 h-1.5 M97.5,157.98 h2.6 M415.5,157.98 h-2.6 M97.5,146.25 h1.5 M415.5,146.25 h-1.5 M97.5,134.51 h1.5 M415.5,134.51 h-1.5 M97.5,122.78 h1.5 M415.5,122.78 h-1.5 M97.5,111.04 h2.6 M415.5,111.04 h-2.6 M97.5,99.31 h1.5 M415.5,99.31 h-1.5 M97.5,87.57 h1.5 M415.5,87.57 h-1.5 M97.5,75.84 h1.5 M415.5,75.84 h-1.5 M97.5,64.1 h2.6 M415.5,64.1 h-2.6 M97.5,52.37 h1.5 M415.5,52.37 h-1.5 M97.5,40.63 h1.5 M415.5,40.63 h-1.5 M97.5,28.89 h1.5 M415.5,28.89 h-1.5" fill="none" stroke="#444" stroke-width="0.7"/>
<rect x="97.5" y="19.5" width="318" height="286" fill="none" stroke="#333" stroke-width="1.15"/>
<g style="font-family:'Liberation Mono',monospace" fill="#000" stroke="#fff" stroke-width="0.2">
<text transform="translate(104.56,324.6) scale(0.88,1)" style="font-size:17.2px;letter-spacing:1.79px">2</text>
<text transform="translate(147.65,324.6) scale(0.88,1)" style="font-size:17.2px;letter-spacing:1.79px">2.5</text>
<text transform="translate(212.06,324.6) scale(0.88,1)" style="font-size:17.2px;letter-spacing:1.79px">3</text>
<text transform="translate(255.15,324.6) scale(0.88,1)" style="font-size:17.2px;letter-spacing:1.79px">3.5</text>
<text transform="translate(319.56,324.6) scale(0.88,1)" style="font-size:17.2px;letter-spacing:1.79px">4</text>
<text transform="translate(362.65,324.6) scale(0.88,1)" style="font-size:17.2px;letter-spacing:1.79px">4.5</text>
<text transform="translate(80.63,303.7) scale(0.88,1)" style="font-size:17.2px;letter-spacing:1.79px">0</text>
<text transform="translate(48.65,256.76) scale(0.88,1)" style="font-size:17.2px;letter-spacing:1.79px">0.02</text>
<text transform="translate(48.65,209.82) scale(0.88,1)" style="font-size:17.2px;letter-spacing:1.79px">0.04</text>
<text transform="translate(48.65,162.88) scale(0.88,1)" style="font-size:17.2px;letter-spacing:1.79px">0.06</text>
<text transform="translate(48.65,115.94) scale(0.88,1)" style="font-size:17.2px;letter-spacing:1.79px">0.08</text>
<text transform="translate(59.31,69) scale(0.88,1)" style="font-size:17.2px;letter-spacing:1.79px">0.1</text>
<text transform="translate(202.05,346.9) scale(1.0,0.94)" style="font-size:16.6px;letter-spacing:0.7px">log(E/GeV)</text>
</g>
<circle cx="162.85" cy="323.4" r="1.15" fill="#000"/>
<circle cx="270.35" cy="323.4" r="1.15" fill="#000"/>
<circle cx="377.85" cy="323.4" r="1.15" fill="#000"/>
<circle cx="63.85" cy="255.56" r="1.15" fill="#000"/>
<circle cx="63.85" cy="208.62" r="1.15" fill="#000"/>
<circle cx="63.85" cy="161.68" r="1.15" fill="#000"/>
<circle cx="63.85" cy="114.74" r="1.15" fill="#000"/>
<circle cx="74.51" cy="67.8" r="1.15" fill="#000"/>
<ellipse cx="85.17" cy="298.02" rx="1.5" ry="2.6" fill="#fff"/>
<ellipse cx="53.19" cy="251.08" rx="1.5" ry="2.6" fill="#fff"/>
<ellipse cx="74.51" cy="251.08" rx="1.5" ry="2.6" fill="#fff"/>
<ellipse cx="53.19" cy="204.14" rx="1.5" ry="2.6" fill="#fff"/>
<ellipse cx="74.51" cy="204.14" rx="1.5" ry="2.6" fill="#fff"/>
<ellipse cx="53.19" cy="157.2" rx="1.5" ry="2.6" fill="#fff"/>
<ellipse cx="74.51" cy="157.2" rx="1.5" ry="2.6" fill="#fff"/>
<ellipse cx="53.19" cy="110.26" rx="1.5" ry="2.6" fill="#fff"/>
<ellipse cx="74.51" cy="110.26" rx="1.5" ry="2.6" fill="#fff"/>
<ellipse cx="63.85" cy="63.32" rx="1.5" ry="2.6" fill="#fff"/>
<text transform="translate(386.7,46.7) scale(1.15,0.93)" style="font-family:'Liberation Mono',monospace;font-size:20px" fill="#000" stroke="#fff" stroke-width="0.3">a</text>
<g transform="translate(132.76,80.85)">
<path d="M10.2,-9.1 C8.6,-5.2 6.2,0 3.1,0 C0.8,0 -0.3,-1.9 0.1,-4.2 C0.6,-7.2 2.7,-9.4 4.8,-9.4 C7,-9.4 7.8,-7.2 7.8,-5 C7.8,-3 7.5,-1.3 8.3,-0.9 C8.9,-0.6 9.6,-0.8 10.2,-1" transform="scale(0.88)" fill="none" stroke="#222" stroke-width="1.25" stroke-linecap="round" stroke-linejoin="round"/>
<text x="10.35" y="3.3" style="font-family:'Liberation Mono',monospace;font-size:13.5px" fill="#000" stroke="#fff" stroke-width="0.15">3</text>
</g>
<g transform="translate(132.76,203.1)">
<path d="M10.2,-9.1 C8.6,-5.2 6.2,0 3.1,0 C0.8,0 -0.3,-1.9 0.1,-4.2 C0.6,-7.2 2.7,-9.4 4.8,-9.4 C7,-9.4 7.8,-7.2 7.8,-5 C7.8,-3 7.5,-1.3 8.3,-0.9 C8.9,-0.6 9.6,-0.8 10.2,-1" transform="scale(0.88)" fill="none" stroke="#222" stroke-width="1.25" stroke-linecap="round" stroke-linejoin="round"/>
<text x="10.35" y="3.3" style="font-family:'Liberation Mono',monospace;font-size:13.5px" fill="#000" stroke="#fff" stroke-width="0.15">2</text>
</g>
<g transform="translate(132.76,278.15)">
<path d="M10.2,-9.1 C8.6,-5.2 6.2,0 3.1,0 C0.8,0 -0.3,-1.9 0.1,-4.2 C0.6,-7.2 2.7,-9.4 4.8,-9.4 C7,-9.4 7.8,-7.2 7.8,-5 C7.8,-3 7.5,-1.3 8.3,-0.9 C8.9,-0.6 9.6,-0.8 10.2,-1" transform="scale(0.88)" fill="none" stroke="#222" stroke-width="1.25" stroke-linecap="round" stroke-linejoin="round"/>
<text x="10.35" y="3.3" style="font-family:'Liberation Mono',monospace;font-size:13.5px" fill="#000" stroke="#fff" stroke-width="0.15">1</text>
</g>
<g transform="translate(36.1,171.3) rotate(-90) scale(0.9)">
<path d="M10.2,-9.1 C8.6,-5.2 6.2,0 3.1,0 C0.8,0 -0.3,-1.9 0.1,-4.2 C0.6,-7.2 2.7,-9.4 4.8,-9.4 C7,-9.4 7.8,-7.2 7.8,-5 C7.8,-3 7.5,-1.3 8.3,-0.9 C8.9,-0.6 9.6,-0.8 10.2,-1" transform="scale(0.88)" fill="none" stroke="#222" stroke-width="1.25" stroke-linecap="round" stroke-linejoin="round"/>
<text x="10.35" y="3.3" style="font-family:'Liberation Mono',monospace;font-size:12.42px" fill="#000" stroke="#fff" stroke-width="0.15">i</text>
</g>
</g>
<g id="panel-b">
<path d="M538.66,26.78 L539.93,28.14 L541.19,29.48 L542.45,30.82 L543.72,32.14 L544.98,33.45 L546.24,34.74 L547.51,36.03 L548.77,37.3 L550.04,38.56 L551.3,39.8 L552.56,41.04 L553.83,42.26 L555.09,43.47 L556.35,44.67 L557.62,45.86 L558.88,47.03 L560.14,48.2 L561.41,49.36 L562.67,50.5 L563.93,51.63 L565.2,52.76 L566.46,53.87 L567.73,54.98 L568.99,56.07 L570.25,57.15 L571.52,58.23 L572.78,59.29 L574.04,60.35 L575.31,61.4 L576.57,62.43 L577.83,63.46 L579.1,64.48 L580.36,65.49 L581.62,66.49 L582.89,67.48 L584.15,68.47 L585.42,69.45 L586.68,70.41 L587.94,71.37 L589.21,72.33 L590.47,73.27 L591.73,74.21 L593,75.13 L594.26,76.05 L595.52,76.97 L596.79,77.87 L598.05,78.77 L599.31,79.66 L600.58,80.55 L601.84,81.42 L603.11,82.29 L604.37,83.15 L605.63,84.01 L606.9,84.86 L608.16,85.7 L609.42,86.54 L610.69,87.37 L611.95,88.19 L613.21,89.01 L614.48,89.82 L615.74,90.62 L617,91.42 L618.27,92.21 L619.53,93 L620.79,93.78 L622.06,94.55 L623.32,95.32 L624.59,96.08 L625.85,96.84 L627.11,97.59 L628.38,98.33 L629.64,99.07 L630.9,99.81 L632.17,100.54 L633.43,101.26 L634.69,101.98 L635.96,102.69 L637.22,103.4 L638.48,104.1 L639.75,104.8 L641.01,105.5 L642.28,106.18 L643.54,106.87 L644.8,107.55 L646.07,108.22 L647.33,108.89 L648.59,109.56 L649.86,110.22 L651.12,110.87 L652.38,111.52 L653.65,112.17 L654.91,112.81 L656.17,113.45 L657.44,114.09 L658.7,114.72 L659.97,115.34 L661.23,115.96 L662.49,116.58 L663.76,117.2 L665.02,117.81 L666.28,118.41 L667.55,119.02 L668.81,119.61 L670.07,120.21 L671.34,120.8 L672.6,121.39 L673.86,121.97 L675.13,122.55 L676.39,123.13 L677.66,123.71 L678.92,124.28 L680.18,124.85 L681.45,125.41 L682.71,125.97 L683.97,126.53 L685.24,127.09 L686.5,127.64 L687.76,128.2 L689.03,128.74 L690.29,129.29 L691.55,129.84 L692.82,130.38 L694.08,130.92 L695.34,131.45 L696.61,131.99 L697.87,132.53 L699.14,133.06 L700.4,133.59 L701.66,134.12 L702.93,134.65 L704.19,135.18 L705.45,135.7 L706.72,136.23 L707.98,136.76 L709.24,137.28 L710.51,137.81 L711.77,138.34 L713.03,138.87 L714.3,139.4 L715.56,139.93 L716.83,140.46 L718.09,140.99 L719.35,141.53 L720.62,142.07 L721.88,142.62 L723.14,143.16 L724.41,143.71 L725.67,144.27 L726.93,144.83 L728.2,145.4 L729.46,145.98 L730.72,146.56 L731.99,147.16 L733.25,147.76 L734.52,148.37 L735.78,148.99 L737.04,149.63 L738.31,150.28 L739.57,150.94 L740.83,151.62 L742.1,152.32 L743.36,153.03 L744.62,153.77 L745.89,154.53 L747.15,155.31 L748.41,156.12 L749.68,156.95 L750.94,157.82 L752.21,158.71 L753.47,159.65 L754.73,160.61 L756,161.62 L757.26,162.68 L758.52,163.77 L759.79,164.92 L761.05,166.12 L762.31,167.37 L763.58,168.69 L764.84,170.06 L766.1,171.51 L767.37,173.02 L768.63,174.61 L769.89,176.28 L771.16,178.03 L772.42,179.87 L773.69,181.8 L774.95,183.83 L776.21,185.95 L777.48,188.19 L778.74,190.53 L780,192.98 L781.27,195.54 L782.53,198.22 L783.79,201.02 L785.06,203.93 L786.32,206.97 L787.58,210.12 L788.85,213.39 L790.11,216.77 L791.38,220.26 L792.64,223.84 L793.9,227.52 L795.17,231.27 L796.43,235.1 L797.69,238.98 L798.96,242.89 L800.22,246.82 L801.48,250.75 L802.75,254.65 L804.01,258.5 L805.27,262.27 L806.54,265.94 L807.8,269.49 L809.07,272.89 L810.33,276.11 L811.59,279.13 L812.86,281.93 L814.12,284.51 L815.38,286.84 L816.65,288.92 L817.91,290.75 L819.17,292.33 L820.44,293.68 L821.7,294.8 L822.96,295.72 L824.23,296.46 L825.49,297.03 L826.76,297.47 L828.02,297.79 L829.28,298.02 L830.55,298.18 L831.81,298.28 L833.07,298.35 L834.34,298.4 L835.6,298.42 L836.86,298.44 L838.13,298.44 L839.39,298.45 L840.65,298.45 L841.92,298.45" fill="none" stroke="#ff0000" stroke-width="1.9" stroke-linejoin="round"/>
<path d="M538.66,219.94 L539.93,219.99 L541.19,220.05 L542.45,220.1 L543.72,220.15 L544.98,220.2 L546.24,220.25 L547.51,220.3 L548.77,220.35 L550.04,220.41 L551.3,220.46 L552.56,220.51 L553.83,220.56 L555.09,220.61 L556.35,220.66 L557.62,220.71 L558.88,220.76 L560.14,220.81 L561.41,220.86 L562.67,220.91 L563.93,220.96 L565.2,221.01 L566.46,221.06 L567.73,221.11 L568.99,221.16 L570.25,221.21 L571.52,221.26 L572.78,221.31 L574.04,221.36 L575.31,221.41 L576.57,221.46 L577.83,221.51 L579.1,221.56 L580.36,221.61 L581.62,221.66 L582.89,221.71 L584.15,221.76 L585.42,221.81 L586.68,221.86 L587.94,221.91 L589.21,221.96 L590.47,222.01 L591.73,222.06 L593,222.1 L594.26,222.15 L595.52,222.2 L596.79,222.25 L598.05,222.3 L599.31,222.35 L600.58,222.4 L601.84,222.45 L603.11,222.49 L604.37,222.54 L605.63,222.59 L606.9,222.64 L608.16,222.69 L609.42,222.73 L610.69,222.78 L611.95,222.83 L613.21,222.88 L614.48,222.93 L615.74,222.97 L617,223.02 L618.27,223.07 L619.53,223.12 L620.79,223.17 L622.06,223.21 L623.32,223.26 L624.59,223.31 L625.85,223.36 L627.11,223.4 L628.38,223.45 L629.64,223.5 L630.9,223.54 L632.17,223.59 L633.43,223.64 L634.69,223.69 L635.96,223.73 L637.22,223.78 L638.48,223.83 L639.75,223.87 L641.01,223.92 L642.28,223.97 L643.54,224.01 L644.8,224.06 L646.07,224.11 L647.33,224.16 L648.59,224.2 L649.86,224.25 L651.12,224.3 L652.38,224.34 L653.65,224.39 L654.91,224.44 L656.17,224.48 L657.44,224.53 L658.7,224.58 L659.97,224.62 L661.23,224.67 L662.49,224.72 L663.76,224.76 L665.02,224.81 L666.28,224.86 L667.55,224.9 L668.81,224.95 L670.07,225 L671.34,225.04 L672.6,225.09 L673.86,225.14 L675.13,225.19 L676.39,225.23 L677.66,225.28 L678.92,225.33 L680.18,225.38 L681.45,225.42 L682.71,225.47 L683.97,225.52 L685.24,225.57 L686.5,225.62 L687.76,225.67 L689.03,225.72 L690.29,225.77 L691.55,225.82 L692.82,225.87 L694.08,225.92 L695.34,225.98 L696.61,226.03 L697.87,226.08 L699.14,226.14 L700.4,226.19 L701.66,226.25 L702.93,226.3 L704.19,226.36 L705.45,226.42 L706.72,226.48 L707.98,226.54 L709.24,226.6 L710.51,226.66 L711.77,226.73 L713.03,226.8 L714.3,226.87 L715.56,226.94 L716.83,227.01 L718.09,227.08 L719.35,227.16 L720.62,227.24 L721.88,227.32 L723.14,227.41 L724.41,227.5 L725.67,227.59 L726.93,227.69 L728.2,227.79 L729.46,227.9 L730.72,228.01 L731.99,228.13 L733.25,228.25 L734.52,228.38 L735.78,228.51 L737.04,228.66 L738.31,228.81 L739.57,228.97 L740.83,229.13 L742.1,229.31 L743.36,229.5 L744.62,229.7 L745.89,229.91 L747.15,230.14 L748.41,230.37 L749.68,230.63 L750.94,230.9 L752.21,231.19 L753.47,231.49 L754.73,231.82 L756,232.17 L757.26,232.54 L758.52,232.93 L759.79,233.36 L761.05,233.81 L762.31,234.29 L763.58,234.8 L764.84,235.34 L766.1,235.92 L767.37,236.54 L768.63,237.2 L769.89,237.9 L771.16,238.65 L772.42,239.44 L773.69,240.29 L774.95,241.18 L776.21,242.13 L777.48,243.14 L778.74,244.21 L780,245.33 L781.27,246.52 L782.53,247.77 L783.79,249.09 L785.06,250.48 L786.32,251.93 L787.58,253.44 L788.85,255.02 L790.11,256.67 L791.38,258.37 L792.64,260.14 L793.9,261.95 L795.17,263.82 L796.43,265.73 L797.69,267.67 L798.96,269.64 L800.22,271.63 L801.48,273.62 L802.75,275.61 L804.01,277.58 L805.27,279.52 L806.54,281.41 L807.8,283.24 L809.07,285 L810.33,286.67 L811.59,288.24 L812.86,289.71 L814.12,291.06 L815.38,292.28 L816.65,293.38 L817.91,294.34 L819.17,295.18 L820.44,295.9 L821.7,296.5 L822.96,296.99 L824.23,297.38 L825.49,297.68 L826.76,297.92 L828.02,298.09 L829.28,298.22 L830.55,298.3 L831.81,298.36 L833.07,298.4" fill="none" stroke="#ff0000" stroke-width="1.9" stroke-linejoin="round"/>
<path d="M538.66,259.14 L539.93,259.12 L541.19,259.1 L542.45,259.09 L543.72,259.07 L544.98,259.05 L546.24,259.04 L547.51,259.02 L548.77,259 L550.04,258.99 L551.3,258.97 L552.56,258.95 L553.83,258.94 L555.09,258.92 L556.35,258.9 L557.62,258.88 L558.88,258.87 L560.14,258.85 L561.41,258.83 L562.67,258.82 L563.93,258.8 L565.2,258.78 L566.46,258.77 L567.73,258.75 L568.99,258.73 L570.25,258.71 L571.52,258.7 L572.78,258.68 L574.04,258.66 L575.31,258.65 L576.57,258.63 L577.83,258.61 L579.1,258.59 L580.36,258.58 L581.62,258.56 L582.89,258.54 L584.15,258.52 L585.42,258.51 L586.68,258.49 L587.94,258.47 L589.21,258.46 L590.47,258.44 L591.73,258.42 L593,258.4 L594.26,258.39 L595.52,258.37 L596.79,258.35 L598.05,258.33 L599.31,258.32 L600.58,258.3 L601.84,258.28 L603.11,258.26 L604.37,258.25 L605.63,258.23 L606.9,258.21 L608.16,258.19 L609.42,258.18 L610.69,258.16 L611.95,258.14 L613.21,258.12 L614.48,258.11 L615.74,258.09 L617,258.07 L618.27,258.05 L619.53,258.03 L620.79,258.02 L622.06,258 L623.32,257.98 L624.59,257.96 L625.85,257.95 L627.11,257.93 L628.38,257.91 L629.64,257.89 L630.9,257.87 L632.17,257.86 L633.43,257.84 L634.69,257.82 L635.96,257.8 L637.22,257.79 L638.48,257.77 L639.75,257.75 L641.01,257.73 L642.28,257.71 L643.54,257.7 L644.8,257.68 L646.07,257.66 L647.33,257.64 L648.59,257.63 L649.86,257.61 L651.12,257.59 L652.38,257.57 L653.65,257.55 L654.91,257.54 L656.17,257.52 L657.44,257.5 L658.7,257.48 L659.97,257.47 L661.23,257.45 L662.49,257.43 L663.76,257.41 L665.02,257.39 L666.28,257.38 L667.55,257.36 L668.81,257.34 L670.07,257.32 L671.34,257.31 L672.6,257.29 L673.86,257.27 L675.13,257.26 L676.39,257.24 L677.66,257.22 L678.92,257.21 L680.18,257.19 L681.45,257.17 L682.71,257.16 L683.97,257.14 L685.24,257.12 L686.5,257.11 L687.76,257.09 L689.03,257.08 L690.29,257.06 L691.55,257.05 L692.82,257.03 L694.08,257.02 L695.34,257 L696.61,256.99 L697.87,256.98 L699.14,256.96 L700.4,256.95 L701.66,256.94 L702.93,256.93 L704.19,256.92 L705.45,256.91 L706.72,256.9 L707.98,256.89 L709.24,256.88 L710.51,256.87 L711.77,256.87 L713.03,256.86 L714.3,256.86 L715.56,256.85 L716.83,256.85 L718.09,256.85 L719.35,256.85 L720.62,256.86 L721.88,256.86 L723.14,256.87 L724.41,256.88 L725.67,256.89 L726.93,256.9 L728.2,256.92 L729.46,256.93 L730.72,256.96 L731.99,256.98 L733.25,257.01 L734.52,257.04 L735.78,257.08 L737.04,257.12 L738.31,257.16 L739.57,257.22 L740.83,257.27 L742.1,257.33 L743.36,257.4 L744.62,257.48 L745.89,257.56 L747.15,257.65 L748.41,257.75 L749.68,257.86 L750.94,257.98 L752.21,258.11 L753.47,258.25 L754.73,258.41 L756,258.57 L757.26,258.76 L758.52,258.95 L759.79,259.17 L761.05,259.4 L762.31,259.64 L763.58,259.91 L764.84,260.2 L766.1,260.52 L767.37,260.85 L768.63,261.21 L769.89,261.6 L771.16,262.02 L772.42,262.46 L773.69,262.94 L774.95,263.45 L776.21,264 L777.48,264.58 L778.74,265.19 L780,265.85 L781.27,266.55 L782.53,267.28 L783.79,268.06 L785.06,268.88 L786.32,269.75 L787.58,270.65 L788.85,271.6 L790.11,272.59 L791.38,273.62 L792.64,274.69 L793.9,275.79 L795.17,276.93 L796.43,278.09 L797.69,279.28 L798.96,280.49 L800.22,281.71 L801.48,282.94 L802.75,284.17 L804.01,285.38 L805.27,286.58 L806.54,287.76 L807.8,288.9 L809.07,289.99 L810.33,291.04 L811.59,292.02 L812.86,292.94 L814.12,293.78 L815.38,294.55 L816.65,295.24 L817.91,295.85 L819.17,296.38 L820.44,296.83 L821.7,297.21 L822.96,297.52 L824.23,297.77 L825.49,297.96 L826.76,298.11 L828.02,298.22 L829.28,298.3 L830.55,298.36 L831.81,298.39 L833.07,298.42 L834.34,298.43" fill="none" stroke="#ff0000" stroke-width="1.9" stroke-linejoin="round"/>
<path d="M538.66,26.78 L539.92,28.13 L541.18,29.47 L542.44,30.8 L543.69,32.11 L544.95,33.42 L546.21,34.71 L547.46,35.98 L548.72,37.25 L549.98,38.5 L551.24,39.74 L552.49,40.97 L553.75,42.19 L555.01,43.39 L556.27,44.59 L557.52,45.77 L558.78,46.94 L560.04,48.1 L561.3,49.25 L562.55,50.39 L563.81,51.52 L565.07,52.64 L566.32,53.75 L567.58,54.85 L568.84,55.94 L570.1,57.02 L571.35,58.09 L572.61,59.15 L573.87,60.2 L575.13,61.25 L576.38,62.28 L577.64,63.3 L578.9,64.32 L580.16,65.33 L581.41,66.32 L582.67,67.31 L583.93,68.29 L585.18,69.27 L586.44,70.23 L587.7,71.19 L588.96,72.14 L590.21,73.08 L591.47,74.01 L592.73,74.94 L593.99,75.85 L595.24,76.76 L596.5,77.67 L597.76,78.56 L599.02,79.45 L600.27,80.33 L601.53,81.21 L602.79,82.07 L604.04,82.93 L605.3,83.79 L606.56,84.63 L607.82,85.47 L609.07,86.31 L610.33,87.13 L611.59,87.95 L612.85,88.77 L614.1,89.58 L615.36,90.38 L616.62,91.17 L617.88,91.96 L619.13,92.75 L620.39,93.52 L621.65,94.29 L622.9,95.06 L624.16,95.82 L625.42,96.58 L626.68,97.32 L627.93,98.07 L629.19,98.81 L630.45,99.54 L631.71,100.27 L632.96,100.99 L634.22,101.7 L635.48,102.41 L636.74,103.12 L637.99,103.82 L639.25,104.52 L640.51,105.21 L641.76,105.9 L643.02,106.58 L644.28,107.25 L645.54,107.93 L646.79,108.59 L648.05,109.26 L649.31,109.91 L650.57,110.57 L651.82,111.22 L653.08,111.86 L654.34,112.5 L655.6,113.14 L656.85,113.77 L658.11,114.39 L659.37,115.02 L660.62,115.64 L661.88,116.25 L663.14,116.86 L664.4,117.47 L665.65,118.07 L666.91,118.67 L668.17,119.26 L669.43,119.85 L670.68,120.44 L671.94,121.02 L673.2,121.6 L674.46,122.17 L675.71,122.75 L676.97,123.31 L678.23,123.88 L679.48,124.44 L680.74,124.99 L682,125.55 L683.26,126.1 L684.51,126.64 L685.77,127.19 L687.03,127.72 L688.29,128.26 L689.54,128.79 L690.8,129.32 L692.06,129.85 L693.32,130.37 L694.57,130.89 L695.83,131.41 L697.09,131.92 L698.34,132.43 L699.6,132.94 L700.86,133.44 L702.12,133.94 L703.37,134.44 L704.63,134.93 L705.89,135.43 L707.15,135.91 L708.4,136.4 L709.66,136.88 L710.92,137.36 L712.18,137.84 L713.43,138.31 L714.69,138.79 L715.95,139.25 L717.2,139.72 L718.46,140.18 L719.72,140.64 L720.98,141.1 L722.23,141.56 L723.49,142.01 L724.75,142.46 L726.01,142.91 L727.26,143.35 L728.52,143.8 L729.78,144.24 L731.04,144.67 L732.29,145.11 L733.55,145.54 L734.81,145.97 L736.06,146.4 L737.32,146.82 L738.58,147.25 L739.84,147.67 L741.09,148.09 L742.35,148.5 L743.61,148.91 L744.87,149.33 L746.12,149.73 L747.38,150.14 L748.64,150.55 L749.9,150.95 L751.15,151.35 L752.41,151.75 L753.67,152.14 L754.92,152.54 L756.18,152.93 L757.44,153.32 L758.7,153.71 L759.95,154.09 L761.21,154.47 L762.47,154.86 L763.73,155.23 L764.98,155.61 L766.24,155.99 L767.5,156.36 L768.76,156.73 L770.01,157.1 L771.27,157.47 L772.53,157.83 L773.78,158.2 L775.04,158.56 L776.3,158.92 L777.56,159.28 L778.81,159.63 L780.07,159.99 L781.33,160.34 L782.59,160.69 L783.84,161.04 L785.1,161.39 L786.36,161.74 L787.62,162.08 L788.87,162.42 L790.13,162.76 L791.39,163.1 L792.64,163.44 L793.9,163.77 L795.16,164.11 L796.42,164.44 L797.67,164.77 L798.93,165.1 L800.19,165.43 L801.45,165.75 L802.7,166.07 L803.96,166.4 L805.22,166.72 L806.48,167.04 L807.73,167.36 L808.99,167.67 L810.25,167.99 L811.5,168.3 L812.76,168.61 L814.02,168.92 L815.28,169.23 L816.53,169.54 L817.79,169.84 L819.05,170.15 L820.31,170.45 L821.56,170.75 L822.82,171.05 L824.08,171.35 L825.34,171.65 L826.59,171.94 L827.85,172.24 L829.11,172.53 L830.36,172.82 L831.62,173.11 L832.88,173.4 L834.14,173.69 L835.39,173.98 L836.65,174.26 L837.91,174.55 L839.17,174.83 L840.42,175.11" fill="none" stroke="#0000ff" stroke-width="1.9" stroke-dasharray="8 4.7"/>
<path d="M538.66,219.94 L539.92,219.99 L541.18,220.05 L542.44,220.1 L543.69,220.15 L544.95,220.2 L546.21,220.25 L547.46,220.3 L548.72,220.35 L549.98,220.4 L551.24,220.45 L552.49,220.5 L553.75,220.56 L555.01,220.61 L556.27,220.66 L557.52,220.71 L558.78,220.76 L560.04,220.81 L561.3,220.86 L562.55,220.91 L563.81,220.96 L565.07,221.01 L566.32,221.06 L567.58,221.11 L568.84,221.16 L570.1,221.21 L571.35,221.26 L572.61,221.31 L573.87,221.36 L575.13,221.41 L576.38,221.46 L577.64,221.51 L578.9,221.55 L580.16,221.6 L581.41,221.65 L582.67,221.7 L583.93,221.75 L585.18,221.8 L586.44,221.85 L587.7,221.9 L588.96,221.95 L590.21,222 L591.47,222.05 L592.73,222.09 L593.99,222.14 L595.24,222.19 L596.5,222.24 L597.76,222.29 L599.02,222.34 L600.27,222.38 L601.53,222.43 L602.79,222.48 L604.04,222.53 L605.3,222.58 L606.56,222.63 L607.82,222.67 L609.07,222.72 L610.33,222.77 L611.59,222.82 L612.85,222.86 L614.1,222.91 L615.36,222.96 L616.62,223.01 L617.88,223.05 L619.13,223.1 L620.39,223.15 L621.65,223.2 L622.9,223.24 L624.16,223.29 L625.42,223.34 L626.68,223.39 L627.93,223.43 L629.19,223.48 L630.45,223.53 L631.71,223.57 L632.96,223.62 L634.22,223.67 L635.48,223.71 L636.74,223.76 L637.99,223.81 L639.25,223.85 L640.51,223.9 L641.76,223.95 L643.02,223.99 L644.28,224.04 L645.54,224.08 L646.79,224.13 L648.05,224.18 L649.31,224.22 L650.57,224.27 L651.82,224.31 L653.08,224.36 L654.34,224.41 L655.6,224.45 L656.85,224.5 L658.11,224.54 L659.37,224.59 L660.62,224.63 L661.88,224.68 L663.14,224.72 L664.4,224.77 L665.65,224.81 L666.91,224.86 L668.17,224.91 L669.43,224.95 L670.68,225 L671.94,225.04 L673.2,225.09 L674.46,225.13 L675.71,225.18 L676.97,225.22 L678.23,225.26 L679.48,225.31 L680.74,225.35 L682,225.4 L683.26,225.44 L684.51,225.49 L685.77,225.53 L687.03,225.58 L688.29,225.62 L689.54,225.66 L690.8,225.71 L692.06,225.75 L693.32,225.8 L694.57,225.84 L695.83,225.88 L697.09,225.93 L698.34,225.97 L699.6,226.02 L700.86,226.06 L702.12,226.1 L703.37,226.15 L704.63,226.19 L705.89,226.23 L707.15,226.28 L708.4,226.32 L709.66,226.36 L710.92,226.41 L712.18,226.45 L713.43,226.49 L714.69,226.54 L715.95,226.58 L717.2,226.62 L718.46,226.67 L719.72,226.71 L720.98,226.75 L722.23,226.8 L723.49,226.84 L724.75,226.88 L726.01,226.92 L727.26,226.97 L728.52,227.01 L729.78,227.05 L731.04,227.09 L732.29,227.14 L733.55,227.18 L734.81,227.22 L736.06,227.26 L737.32,227.31 L738.58,227.35 L739.84,227.39 L741.09,227.43 L742.35,227.47 L743.61,227.52 L744.87,227.56 L746.12,227.6 L747.38,227.64 L748.64,227.68 L749.9,227.73 L751.15,227.77 L752.41,227.81 L753.67,227.85 L754.92,227.89 L756.18,227.93 L757.44,227.98 L758.7,228.02 L759.95,228.06 L761.21,228.1 L762.47,228.14 L763.73,228.18 L764.98,228.22 L766.24,228.26 L767.5,228.31 L768.76,228.35 L770.01,228.39 L771.27,228.43 L772.53,228.47 L773.78,228.51 L775.04,228.55 L776.3,228.59 L777.56,228.63 L778.81,228.67 L780.07,228.71 L781.33,228.75 L782.59,228.79 L783.84,228.84 L785.1,228.88 L786.36,228.92 L787.62,228.96 L788.87,229 L790.13,229.04 L791.39,229.08 L792.64,229.12 L793.9,229.16 L795.16,229.2 L796.42,229.24 L797.67,229.28 L798.93,229.32 L800.19,229.36 L801.45,229.4 L802.7,229.44 L803.96,229.48 L805.22,229.52 L806.48,229.56 L807.73,229.6 L808.99,229.63 L810.25,229.67 L811.5,229.71 L812.76,229.75 L814.02,229.79 L815.28,229.83 L816.53,229.87 L817.79,229.91 L819.05,229.95 L820.31,229.99 L821.56,230.03 L822.82,230.07 L824.08,230.11 L825.34,230.14 L826.59,230.18 L827.85,230.22 L829.11,230.26 L830.36,230.3 L831.62,230.34 L832.88,230.38 L834.14,230.42 L835.39,230.45 L836.65,230.49 L837.91,230.53 L839.17,230.57 L840.42,230.61" fill="none" stroke="#0000ff" stroke-width="1.9" stroke-dasharray="8 4.7"/>
<path d="M538.66,259.14 L539.92,259.12 L541.18,259.1 L542.44,259.09 L543.69,259.07 L544.95,259.05 L546.21,259.04 L547.46,259.02 L548.72,259 L549.98,258.99 L551.24,258.97 L552.49,258.95 L553.75,258.94 L555.01,258.92 L556.27,258.9 L557.52,258.89 L558.78,258.87 L560.04,258.85 L561.3,258.84 L562.55,258.82 L563.81,258.8 L565.07,258.78 L566.32,258.77 L567.58,258.75 L568.84,258.73 L570.1,258.72 L571.35,258.7 L572.61,258.68 L573.87,258.66 L575.13,258.65 L576.38,258.63 L577.64,258.61 L578.9,258.6 L580.16,258.58 L581.41,258.56 L582.67,258.54 L583.93,258.53 L585.18,258.51 L586.44,258.49 L587.7,258.48 L588.96,258.46 L590.21,258.44 L591.47,258.42 L592.73,258.41 L593.99,258.39 L595.24,258.37 L596.5,258.35 L597.76,258.34 L599.02,258.32 L600.27,258.3 L601.53,258.29 L602.79,258.27 L604.04,258.25 L605.3,258.23 L606.56,258.22 L607.82,258.2 L609.07,258.18 L610.33,258.16 L611.59,258.15 L612.85,258.13 L614.1,258.11 L615.36,258.09 L616.62,258.07 L617.88,258.06 L619.13,258.04 L620.39,258.02 L621.65,258 L622.9,257.99 L624.16,257.97 L625.42,257.95 L626.68,257.93 L627.93,257.92 L629.19,257.9 L630.45,257.88 L631.71,257.86 L632.96,257.84 L634.22,257.83 L635.48,257.81 L636.74,257.79 L637.99,257.77 L639.25,257.76 L640.51,257.74 L641.76,257.72 L643.02,257.7 L644.28,257.68 L645.54,257.67 L646.79,257.65 L648.05,257.63 L649.31,257.61 L650.57,257.59 L651.82,257.58 L653.08,257.56 L654.34,257.54 L655.6,257.52 L656.85,257.5 L658.11,257.49 L659.37,257.47 L660.62,257.45 L661.88,257.43 L663.14,257.41 L664.4,257.39 L665.65,257.38 L666.91,257.36 L668.17,257.34 L669.43,257.32 L670.68,257.3 L671.94,257.28 L673.2,257.27 L674.46,257.25 L675.71,257.23 L676.97,257.21 L678.23,257.19 L679.48,257.17 L680.74,257.16 L682,257.14 L683.26,257.12 L684.51,257.1 L685.77,257.08 L687.03,257.06 L688.29,257.05 L689.54,257.03 L690.8,257.01 L692.06,256.99 L693.32,256.97 L694.57,256.95 L695.83,256.93 L697.09,256.92 L698.34,256.9 L699.6,256.88 L700.86,256.86 L702.12,256.84 L703.37,256.82 L704.63,256.8 L705.89,256.78 L707.15,256.77 L708.4,256.75 L709.66,256.73 L710.92,256.71 L712.18,256.69 L713.43,256.67 L714.69,256.65 L715.95,256.63 L717.2,256.62 L718.46,256.6 L719.72,256.58 L720.98,256.56 L722.23,256.54 L723.49,256.52 L724.75,256.5 L726.01,256.48 L727.26,256.46 L728.52,256.44 L729.78,256.43 L731.04,256.41 L732.29,256.39 L733.55,256.37 L734.81,256.35 L736.06,256.33 L737.32,256.31 L738.58,256.29 L739.84,256.27 L741.09,256.25 L742.35,256.23 L743.61,256.21 L744.87,256.19 L746.12,256.18 L747.38,256.16 L748.64,256.14 L749.9,256.12 L751.15,256.1 L752.41,256.08 L753.67,256.06 L754.92,256.04 L756.18,256.02 L757.44,256 L758.7,255.98 L759.95,255.96 L761.21,255.94 L762.47,255.92 L763.73,255.9 L764.98,255.88 L766.24,255.86 L767.5,255.84 L768.76,255.83 L770.01,255.81 L771.27,255.79 L772.53,255.77 L773.78,255.75 L775.04,255.73 L776.3,255.71 L777.56,255.69 L778.81,255.67 L780.07,255.65 L781.33,255.63 L782.59,255.61 L783.84,255.59 L785.1,255.57 L786.36,255.55 L787.62,255.53 L788.87,255.51 L790.13,255.49 L791.39,255.47 L792.64,255.45 L793.9,255.43 L795.16,255.41 L796.42,255.39 L797.67,255.37 L798.93,255.35 L800.19,255.33 L801.45,255.31 L802.7,255.29 L803.96,255.27 L805.22,255.25 L806.48,255.23 L807.73,255.21 L808.99,255.19 L810.25,255.17 L811.5,255.15 L812.76,255.13 L814.02,255.11 L815.28,255.09 L816.53,255.07 L817.79,255.05 L819.05,255.03 L820.31,255 L821.56,254.98 L822.82,254.96 L824.08,254.94 L825.34,254.92 L826.59,254.9 L827.85,254.88 L829.11,254.86 L830.36,254.84 L831.62,254.82 L832.88,254.8 L834.14,254.78 L835.39,254.76 L836.65,254.74 L837.91,254.72 L839.17,254.7 L840.42,254.68" fill="none" stroke="#0000ff" stroke-width="1.9" stroke-dasharray="8 4.7"/>
<path d="M538.66,26.78 L539.92,27.36 L541.18,27.94 L542.44,28.52 L543.69,29.09 L544.95,29.66 L546.21,30.23 L547.46,30.8 L548.72,31.36 L549.98,31.93 L551.24,32.49 L552.49,33.05 L553.75,33.6 L555.01,34.15 L556.27,34.71 L557.52,35.25 L558.78,35.8 L560.04,36.35 L561.3,36.89 L562.55,37.43 L563.81,37.96 L565.07,38.5 L566.32,39.03 L567.58,39.56 L568.84,40.09 L570.1,40.62 L571.35,41.14 L572.61,41.67 L573.87,42.19 L575.13,42.7 L576.38,43.22 L577.64,43.73 L578.9,44.25 L580.16,44.76 L581.41,45.26 L582.67,45.77 L583.93,46.27 L585.18,46.77 L586.44,47.27 L587.7,47.77 L588.96,48.27 L590.21,48.76 L591.47,49.25 L592.73,49.74 L593.99,50.23 L595.24,50.72 L596.5,51.2 L597.76,51.68 L599.02,52.16 L600.27,52.64 L601.53,53.12 L602.79,53.59 L604.04,54.07 L605.3,54.54 L606.56,55.01 L607.82,55.48 L609.07,55.94 L610.33,56.4 L611.59,56.87 L612.85,57.33 L614.1,57.79 L615.36,58.24 L616.62,58.7 L617.88,59.15 L619.13,59.6 L620.39,60.05 L621.65,60.5 L622.9,60.95 L624.16,61.39 L625.42,61.84 L626.68,62.28 L627.93,62.72 L629.19,63.16 L630.45,63.59 L631.71,64.03 L632.96,64.46 L634.22,64.9 L635.48,65.33 L636.74,65.75 L637.99,66.18 L639.25,66.61 L640.51,67.03 L641.76,67.45 L643.02,67.88 L644.28,68.29 L645.54,68.71 L646.79,69.13 L648.05,69.54 L649.31,69.96 L650.57,70.37 L651.82,70.78 L653.08,71.19 L654.34,71.6 L655.6,72 L656.85,72.41 L658.11,72.81 L659.37,73.21 L660.62,73.61 L661.88,74.01 L663.14,74.41 L664.4,74.81 L665.65,75.2 L666.91,75.59 L668.17,75.98 L669.43,76.38 L670.68,76.76 L671.94,77.15 L673.2,77.54 L674.46,77.92 L675.71,78.31 L676.97,78.69 L678.23,79.07 L679.48,79.45 L680.74,79.83 L682,80.21 L683.26,80.58 L684.51,80.96 L685.77,81.33 L687.03,81.7 L688.29,82.07 L689.54,82.44 L690.8,82.81 L692.06,83.18 L693.32,83.54 L694.57,83.91 L695.83,84.27 L697.09,84.63 L698.34,84.99 L699.6,85.35 L700.86,85.71 L702.12,86.07 L703.37,86.42 L704.63,86.78 L705.89,87.13 L707.15,87.49 L708.4,87.84 L709.66,88.19 L710.92,88.54 L712.18,88.88 L713.43,89.23 L714.69,89.58 L715.95,89.92 L717.2,90.26 L718.46,90.61 L719.72,90.95 L720.98,91.29 L722.23,91.62 L723.49,91.96 L724.75,92.3 L726.01,92.63 L727.26,92.97 L728.52,93.3 L729.78,93.63 L731.04,93.96 L732.29,94.29 L733.55,94.62 L734.81,94.95 L736.06,95.28 L737.32,95.6 L738.58,95.93 L739.84,96.25 L741.09,96.58 L742.35,96.9 L743.61,97.22 L744.87,97.54 L746.12,97.86 L747.38,98.17 L748.64,98.49 L749.9,98.81 L751.15,99.12 L752.41,99.43 L753.67,99.75 L754.92,100.06 L756.18,100.37 L757.44,100.68 L758.7,100.99 L759.95,101.29 L761.21,101.6 L762.47,101.91 L763.73,102.21 L764.98,102.52 L766.24,102.82 L767.5,103.12 L768.76,103.42 L770.01,103.72 L771.27,104.02 L772.53,104.32 L773.78,104.62 L775.04,104.91 L776.3,105.21 L777.56,105.5 L778.81,105.8 L780.07,106.09 L781.33,106.38 L782.59,106.67 L783.84,106.96 L785.1,107.25 L786.36,107.54 L787.62,107.83 L788.87,108.12 L790.13,108.4 L791.39,108.69 L792.64,108.97 L793.9,109.26 L795.16,109.54 L796.42,109.82 L797.67,110.1 L798.93,110.38 L800.19,110.66 L801.45,110.94 L802.7,111.22 L803.96,111.49 L805.22,111.77 L806.48,112.04 L807.73,112.32 L808.99,112.59 L810.25,112.86 L811.5,113.14 L812.76,113.41 L814.02,113.68 L815.28,113.95 L816.53,114.22 L817.79,114.48 L819.05,114.75 L820.31,115.02 L821.56,115.28 L822.82,115.55 L824.08,115.81 L825.34,116.07 L826.59,116.34 L827.85,116.6 L829.11,116.86 L830.36,117.12 L831.62,117.38 L832.88,117.64 L834.14,117.9 L835.39,118.15 L836.65,118.41 L837.91,118.67 L839.17,118.92 L840.42,119.18" fill="none" stroke="#006400" stroke-width="1.8" stroke-dasharray="1.7 3.37"/>
<path d="M538.66,219.94 L539.92,219.93 L541.18,219.91 L542.44,219.89 L543.69,219.88 L544.95,219.86 L546.21,219.85 L547.46,219.83 L548.72,219.81 L549.98,219.8 L551.24,219.78 L552.49,219.76 L553.75,219.75 L555.01,219.73 L556.27,219.71 L557.52,219.7 L558.78,219.68 L560.04,219.67 L561.3,219.65 L562.55,219.63 L563.81,219.62 L565.07,219.6 L566.32,219.58 L567.58,219.57 L568.84,219.55 L570.1,219.53 L571.35,219.52 L572.61,219.5 L573.87,219.49 L575.13,219.47 L576.38,219.45 L577.64,219.44 L578.9,219.42 L580.16,219.4 L581.41,219.39 L582.67,219.37 L583.93,219.35 L585.18,219.34 L586.44,219.32 L587.7,219.3 L588.96,219.29 L590.21,219.27 L591.47,219.25 L592.73,219.24 L593.99,219.22 L595.24,219.21 L596.5,219.19 L597.76,219.17 L599.02,219.16 L600.27,219.14 L601.53,219.12 L602.79,219.11 L604.04,219.09 L605.3,219.07 L606.56,219.06 L607.82,219.04 L609.07,219.02 L610.33,219.01 L611.59,218.99 L612.85,218.97 L614.1,218.96 L615.36,218.94 L616.62,218.92 L617.88,218.91 L619.13,218.89 L620.39,218.87 L621.65,218.86 L622.9,218.84 L624.16,218.82 L625.42,218.81 L626.68,218.79 L627.93,218.77 L629.19,218.76 L630.45,218.74 L631.71,218.72 L632.96,218.71 L634.22,218.69 L635.48,218.67 L636.74,218.66 L637.99,218.64 L639.25,218.62 L640.51,218.61 L641.76,218.59 L643.02,218.57 L644.28,218.55 L645.54,218.54 L646.79,218.52 L648.05,218.5 L649.31,218.49 L650.57,218.47 L651.82,218.45 L653.08,218.44 L654.34,218.42 L655.6,218.4 L656.85,218.39 L658.11,218.37 L659.37,218.35 L660.62,218.34 L661.88,218.32 L663.14,218.3 L664.4,218.28 L665.65,218.27 L666.91,218.25 L668.17,218.23 L669.43,218.22 L670.68,218.2 L671.94,218.18 L673.2,218.17 L674.46,218.15 L675.71,218.13 L676.97,218.11 L678.23,218.1 L679.48,218.08 L680.74,218.06 L682,218.05 L683.26,218.03 L684.51,218.01 L685.77,218 L687.03,217.98 L688.29,217.96 L689.54,217.94 L690.8,217.93 L692.06,217.91 L693.32,217.89 L694.57,217.88 L695.83,217.86 L697.09,217.84 L698.34,217.82 L699.6,217.81 L700.86,217.79 L702.12,217.77 L703.37,217.76 L704.63,217.74 L705.89,217.72 L707.15,217.7 L708.4,217.69 L709.66,217.67 L710.92,217.65 L712.18,217.64 L713.43,217.62 L714.69,217.6 L715.95,217.58 L717.2,217.57 L718.46,217.55 L719.72,217.53 L720.98,217.52 L722.23,217.5 L723.49,217.48 L724.75,217.46 L726.01,217.45 L727.26,217.43 L728.52,217.41 L729.78,217.39 L731.04,217.38 L732.29,217.36 L733.55,217.34 L734.81,217.33 L736.06,217.31 L737.32,217.29 L738.58,217.27 L739.84,217.26 L741.09,217.24 L742.35,217.22 L743.61,217.2 L744.87,217.19 L746.12,217.17 L747.38,217.15 L748.64,217.13 L749.9,217.12 L751.15,217.1 L752.41,217.08 L753.67,217.06 L754.92,217.05 L756.18,217.03 L757.44,217.01 L758.7,216.99 L759.95,216.98 L761.21,216.96 L762.47,216.94 L763.73,216.92 L764.98,216.91 L766.24,216.89 L767.5,216.87 L768.76,216.85 L770.01,216.84 L771.27,216.82 L772.53,216.8 L773.78,216.78 L775.04,216.77 L776.3,216.75 L777.56,216.73 L778.81,216.71 L780.07,216.7 L781.33,216.68 L782.59,216.66 L783.84,216.64 L785.1,216.63 L786.36,216.61 L787.62,216.59 L788.87,216.57 L790.13,216.55 L791.39,216.54 L792.64,216.52 L793.9,216.5 L795.16,216.48 L796.42,216.47 L797.67,216.45 L798.93,216.43 L800.19,216.41 L801.45,216.4 L802.7,216.38 L803.96,216.36 L805.22,216.34 L806.48,216.32 L807.73,216.31 L808.99,216.29 L810.25,216.27 L811.5,216.25 L812.76,216.24 L814.02,216.22 L815.28,216.2 L816.53,216.18 L817.79,216.16 L819.05,216.15 L820.31,216.13 L821.56,216.11 L822.82,216.09 L824.08,216.07 L825.34,216.06 L826.59,216.04 L827.85,216.02 L829.11,216 L830.36,215.99 L831.62,215.97 L832.88,215.95 L834.14,215.93 L835.39,215.91 L836.65,215.9 L837.91,215.88 L839.17,215.86 L840.42,215.84" fill="none" stroke="#006400" stroke-width="1.8" stroke-dasharray="1.7 3.37"/>
<path d="M538.66,259.14 L539.92,259.11 L541.18,259.08 L542.44,259.06 L543.69,259.03 L544.95,259 L546.21,258.98 L547.46,258.95 L548.72,258.92 L549.98,258.89 L551.24,258.87 L552.49,258.84 L553.75,258.81 L555.01,258.79 L556.27,258.76 L557.52,258.73 L558.78,258.7 L560.04,258.68 L561.3,258.65 L562.55,258.62 L563.81,258.59 L565.07,258.57 L566.32,258.54 L567.58,258.51 L568.84,258.48 L570.1,258.45 L571.35,258.43 L572.61,258.4 L573.87,258.37 L575.13,258.34 L576.38,258.31 L577.64,258.29 L578.9,258.26 L580.16,258.23 L581.41,258.2 L582.67,258.17 L583.93,258.15 L585.18,258.12 L586.44,258.09 L587.7,258.06 L588.96,258.03 L590.21,258 L591.47,257.98 L592.73,257.95 L593.99,257.92 L595.24,257.89 L596.5,257.86 L597.76,257.83 L599.02,257.8 L600.27,257.78 L601.53,257.75 L602.79,257.72 L604.04,257.69 L605.3,257.66 L606.56,257.63 L607.82,257.6 L609.07,257.57 L610.33,257.54 L611.59,257.51 L612.85,257.49 L614.1,257.46 L615.36,257.43 L616.62,257.4 L617.88,257.37 L619.13,257.34 L620.39,257.31 L621.65,257.28 L622.9,257.25 L624.16,257.22 L625.42,257.19 L626.68,257.16 L627.93,257.13 L629.19,257.1 L630.45,257.07 L631.71,257.04 L632.96,257.01 L634.22,256.98 L635.48,256.95 L636.74,256.92 L637.99,256.89 L639.25,256.86 L640.51,256.83 L641.76,256.8 L643.02,256.77 L644.28,256.74 L645.54,256.71 L646.79,256.68 L648.05,256.65 L649.31,256.62 L650.57,256.59 L651.82,256.56 L653.08,256.53 L654.34,256.5 L655.6,256.47 L656.85,256.44 L658.11,256.41 L659.37,256.38 L660.62,256.35 L661.88,256.31 L663.14,256.28 L664.4,256.25 L665.65,256.22 L666.91,256.19 L668.17,256.16 L669.43,256.13 L670.68,256.1 L671.94,256.07 L673.2,256.04 L674.46,256 L675.71,255.97 L676.97,255.94 L678.23,255.91 L679.48,255.88 L680.74,255.85 L682,255.82 L683.26,255.78 L684.51,255.75 L685.77,255.72 L687.03,255.69 L688.29,255.66 L689.54,255.62 L690.8,255.59 L692.06,255.56 L693.32,255.53 L694.57,255.5 L695.83,255.46 L697.09,255.43 L698.34,255.4 L699.6,255.37 L700.86,255.34 L702.12,255.3 L703.37,255.27 L704.63,255.24 L705.89,255.21 L707.15,255.17 L708.4,255.14 L709.66,255.11 L710.92,255.08 L712.18,255.04 L713.43,255.01 L714.69,254.98 L715.95,254.94 L717.2,254.91 L718.46,254.88 L719.72,254.85 L720.98,254.81 L722.23,254.78 L723.49,254.75 L724.75,254.71 L726.01,254.68 L727.26,254.65 L728.52,254.61 L729.78,254.58 L731.04,254.55 L732.29,254.51 L733.55,254.48 L734.81,254.44 L736.06,254.41 L737.32,254.38 L738.58,254.34 L739.84,254.31 L741.09,254.28 L742.35,254.24 L743.61,254.21 L744.87,254.17 L746.12,254.14 L747.38,254.11 L748.64,254.07 L749.9,254.04 L751.15,254 L752.41,253.97 L753.67,253.93 L754.92,253.9 L756.18,253.86 L757.44,253.83 L758.7,253.8 L759.95,253.76 L761.21,253.73 L762.47,253.69 L763.73,253.66 L764.98,253.62 L766.24,253.59 L767.5,253.55 L768.76,253.52 L770.01,253.48 L771.27,253.45 L772.53,253.41 L773.78,253.38 L775.04,253.34 L776.3,253.3 L777.56,253.27 L778.81,253.23 L780.07,253.2 L781.33,253.16 L782.59,253.13 L783.84,253.09 L785.1,253.06 L786.36,253.02 L787.62,252.98 L788.87,252.95 L790.13,252.91 L791.39,252.88 L792.64,252.84 L793.9,252.8 L795.16,252.77 L796.42,252.73 L797.67,252.69 L798.93,252.66 L800.19,252.62 L801.45,252.58 L802.7,252.55 L803.96,252.51 L805.22,252.47 L806.48,252.44 L807.73,252.4 L808.99,252.36 L810.25,252.33 L811.5,252.29 L812.76,252.25 L814.02,252.22 L815.28,252.18 L816.53,252.14 L817.79,252.1 L819.05,252.07 L820.31,252.03 L821.56,251.99 L822.82,251.95 L824.08,251.92 L825.34,251.88 L826.59,251.84 L827.85,251.8 L829.11,251.77 L830.36,251.73 L831.62,251.69 L832.88,251.65 L834.14,251.61 L835.39,251.57 L836.65,251.54 L837.91,251.5 L839.17,251.46 L840.42,251.42" fill="none" stroke="#006400" stroke-width="1.8" stroke-dasharray="1.7 3.37"/>
<path d="M542.4,305.35 v-2.6 M542.4,19.8 v2.6 M557.35,305.35 v-1.5 M557.35,19.8 v1.5 M572.29,305.35 v-1.5 M572.29,19.8 v1.5 M587.24,305.35 v-1.5 M587.24,19.8 v1.5 M602.18,305.35 v-1.5 M602.18,19.8 v1.5 M617.13,305.35 v-2.6 M617.13,19.8 v2.6 M632.08,305.35 v-1.5 M632.08,19.8 v1.5 M647.02,305.35 v-1.5 M647.02,19.8 v1.5 M661.97,305.35 v-1.5 M661.97,19.8 v1.5 M676.91,305.35 v-1.5 M676.91,19.8 v1.5 M691.86,305.35 v-2.6 M691.86,19.8 v2.6 M706.81,305.35 v-1.5 M706.81,19.8 v1.5 M721.75,305.35 v-1.5 M721.75,19.8 v1.5 M736.7,305.35 v-1.5 M736.7,19.8 v1.5 M751.64,305.35 v-1.5 M751.64,19.8 v1.5 M766.59,305.35 v-2.6 M766.59,19.8 v2.6 M781.54,305.35 v-1.5 M781.54,19.8 v1.5 M796.48,305.35 v-1.5 M796.48,19.8 v1.5 M811.43,305.35 v-1.5 M811.43,19.8 v1.5 M826.37,305.35 v-1.5 M826.37,19.8 v1.5 M841.32,305.35 v-2.6 M841.32,19.8 v2.6 M531.8,298.45 h2.6 M848.75,298.45 h-2.6 M531.8,286.75 h1.5 M848.75,286.75 h-1.5 M531.8,275.05 h1.5 M848.75,275.05 h-1.5 M531.8,263.35 h1.5 M848.75,263.35 h-1.5 M531.8,251.65 h2.6 M848.75,251.65 h-2.6 M531.8,239.95 h1.5 M848.75,239.95 h-1.5 M531.8,228.25 h1.5 M848.75,228.25 h-1.5 M531.8,216.55 h1.5 M848.75,216.55 h-1.5 M531.8,204.85 h2.6 M848.75,204.85 h-2.6 M531.8,193.15 h1.5 M848.75,193.15 h-1.5 M531.8,181.45 h1.5 M848.75,181.45 h-1.5 M531.8,169.75 h1.5 M848.75,169.75 h-1.5 M531.8,158.05 h2.6 M848.75,158.05 h-2.6 M531.8,146.35 h1.5 M848.75,146.35 h-1.5 M531.8,134.65 h1.5 M848.75,134.65 h-1.5 M531.8,122.95 h1.5 M848.75,122.95 h-1.5 M531.8,111.25 h2.6 M848.75,111.25 h-2.6 M531.8,99.55 h1.5 M848.75,99.55 h-1.5 M531.8,87.85 h1.5 M848.75,87.85 h-1.5 M531.8,76.15 h1.5 M848.75,76.15 h-1.5 M531.8,64.45 h2.6 M848.75,64.45 h-2.6 M531.8,52.75 h1.5 M848.75,52.75 h-1.5 M531.8,41.05 h1.5 M848.75,41.05 h-1.5 M531.8,29.35 h1.5 M848.75,29.35 h-1.5" fill="none" stroke="#333" stroke-width="0.9"/>
<rect x="531.8" y="19.8" width="316.95" height="285.55" fill="none" stroke="#333" stroke-width="1.15"/>
<g style="font-family:'Liberation Mono',monospace" fill="#000" stroke="#fff" stroke-width="0.2">
<text transform="translate(537.56,324.6) scale(0.88,1)" style="font-size:17.2px;letter-spacing:1.79px">2</text>
<text transform="translate(612.29,324.6) scale(0.88,1)" style="font-size:17.2px;letter-spacing:1.79px">3</text>
<text transform="translate(687.02,324.6) scale(0.88,1)" style="font-size:17.2px;letter-spacing:1.79px">4</text>
<text transform="translate(761.75,324.6) scale(0.88,1)" style="font-size:17.2px;letter-spacing:1.79px">5</text>
<text transform="translate(836.48,324.6) scale(0.88,1)" style="font-size:17.2px;letter-spacing:1.79px">6</text>
<text transform="translate(514.93,303.7) scale(0.88,1)" style="font-size:17.2px;letter-spacing:1.79px">0</text>
<text transform="translate(482.95,256.76) scale(0.88,1)" style="font-size:17.2px;letter-spacing:1.79px">0.02</text>
<text transform="translate(482.95,209.82) scale(0.88,1)" style="font-size:17.2px;letter-spacing:1.79px">0.04</text>
<text transform="translate(482.95,162.88) scale(0.88,1)" style="font-size:17.2px;letter-spacing:1.79px">0.06</text>
<text transform="translate(482.95,115.94) scale(0.88,1)" style="font-size:17.2px;letter-spacing:1.79px">0.08</text>
<text transform="translate(493.61,69) scale(0.88,1)" style="font-size:17.2px;letter-spacing:1.79px">0.1</text>
<text transform="translate(636.05,346.9) scale(1.0,0.94)" style="font-size:16.6px;letter-spacing:0.7px">log(E/GeV)</text>
</g>
<circle cx="498.15" cy="255.56" r="1.15" fill="#000"/>
<circle cx="498.15" cy="208.62" r="1.15" fill="#000"/>
<circle cx="498.15" cy="161.68" r="1.15" fill="#000"/>
<circle cx="498.15" cy="114.74" r="1.15" fill="#000"/>
<circle cx="508.81" cy="67.8" r="1.15" fill="#000"/>
<ellipse cx="519.47" cy="298.02" rx="1.5" ry="2.6" fill="#fff"/>
<ellipse cx="487.49" cy="251.08" rx="1.5" ry="2.6" fill="#fff"/>
<ellipse cx="508.81" cy="251.08" rx="1.5" ry="2.6" fill="#fff"/>
<ellipse cx="487.49" cy="204.14" rx="1.5" ry="2.6" fill="#fff"/>
<ellipse cx="508.81" cy="204.14" rx="1.5" ry="2.6" fill="#fff"/>
<ellipse cx="487.49" cy="157.2" rx="1.5" ry="2.6" fill="#fff"/>
<ellipse cx="508.81" cy="157.2" rx="1.5" ry="2.6" fill="#fff"/>
<ellipse cx="487.49" cy="110.26" rx="1.5" ry="2.6" fill="#fff"/>
<ellipse cx="508.81" cy="110.26" rx="1.5" ry="2.6" fill="#fff"/>
<ellipse cx="498.15" cy="63.32" rx="1.5" ry="2.6" fill="#fff"/>
<text transform="translate(824,46.6) scale(1.25,0.92)" style="font-family:'Liberation Mono',monospace;font-size:20px" fill="#000" stroke="#fff" stroke-width="0.3">b</text>
<path d="M824.9,33.9 H827 M824.9,46.3 H827.2" stroke="#000" stroke-width="1" fill="none"/>
<g transform="translate(570.5,93.15)">
<path d="M10.2,-9.1 C8.6,-5.2 6.2,0 3.1,0 C0.8,0 -0.3,-1.9 0.1,-4.2 C0.6,-7.2 2.7,-9.4 4.8,-9.4 C7,-9.4 7.8,-7.2 7.8,-5 C7.8,-3 7.5,-1.3 8.3,-0.9 C8.9,-0.6 9.6,-0.8 10.2,-1" transform="scale(0.88)" fill="none" stroke="#222" stroke-width="1.25" stroke-linecap="round" stroke-linejoin="round"/>
<text x="10.35" y="3.3" style="font-family:'Liberation Mono',monospace;font-size:13.5px" fill="#000" stroke="#fff" stroke-width="0.15">3</text>
</g>
<g transform="translate(570.5,203.05)">
<path d="M10.2,-9.1 C8.6,-5.2 6.2,0 3.1,0 C0.8,0 -0.3,-1.9 0.1,-4.2 C0.6,-7.2 2.7,-9.4 4.8,-9.4 C7,-9.4 7.8,-7.2 7.8,-5 C7.8,-3 7.5,-1.3 8.3,-0.9 C8.9,-0.6 9.6,-0.8 10.2,-1" transform="scale(0.88)" fill="none" stroke="#222" stroke-width="1.25" stroke-linecap="round" stroke-linejoin="round"/>
<text x="10.35" y="3.3" style="font-family:'Liberation Mono',monospace;font-size:13.5px" fill="#000" stroke="#fff" stroke-width="0.15">2</text>
</g>
<g transform="translate(570.5,278.15)">
<path d="M10.2,-9.1 C8.6,-5.2 6.2,0 3.1,0 C0.8,0 -0.3,-1.9 0.1,-4.2 C0.6,-7.2 2.7,-9.4 4.8,-9.4 C7,-9.4 7.8,-7.2 7.8,-5 C7.8,-3 7.5,-1.3 8.3,-0.9 C8.9,-0.6 9.6,-0.8 10.2,-1" transform="scale(0.88)" fill="none" stroke="#222" stroke-width="1.25" stroke-linecap="round" stroke-linejoin="round"/>
<text x="10.35" y="3.3" style="font-family:'Liberation Mono',monospace;font-size:13.5px" fill="#000" stroke="#fff" stroke-width="0.15">1</text>
</g>
<g transform="translate(470.4,171.3) rotate(-90) scale(0.9)">
<path d="M10.2,-9.1 C8.6,-5.2 6.2,0 3.1,0 C0.8,0 -0.3,-1.9 0.1,-4.2 C0.6,-7.2 2.7,-9.4 4.8,-9.4 C7,-9.4 7.8,-7.2 7.8,-5 C7.8,-3 7.5,-1.3 8.3,-0.9 C8.9,-0.6 9.6,-0.8 10.2,-1" transform="scale(0.88)" fill="none" stroke="#222" stroke-width="1.25" stroke-linecap="round" stroke-linejoin="round"/>
<text x="10.35" y="3.3" style="font-family:'Liberation Mono',monospace;font-size:12.42px" fill="#000" stroke="#fff" stroke-width="0.15">i</text>
</g>
</g>
</svg>
</body></html>
